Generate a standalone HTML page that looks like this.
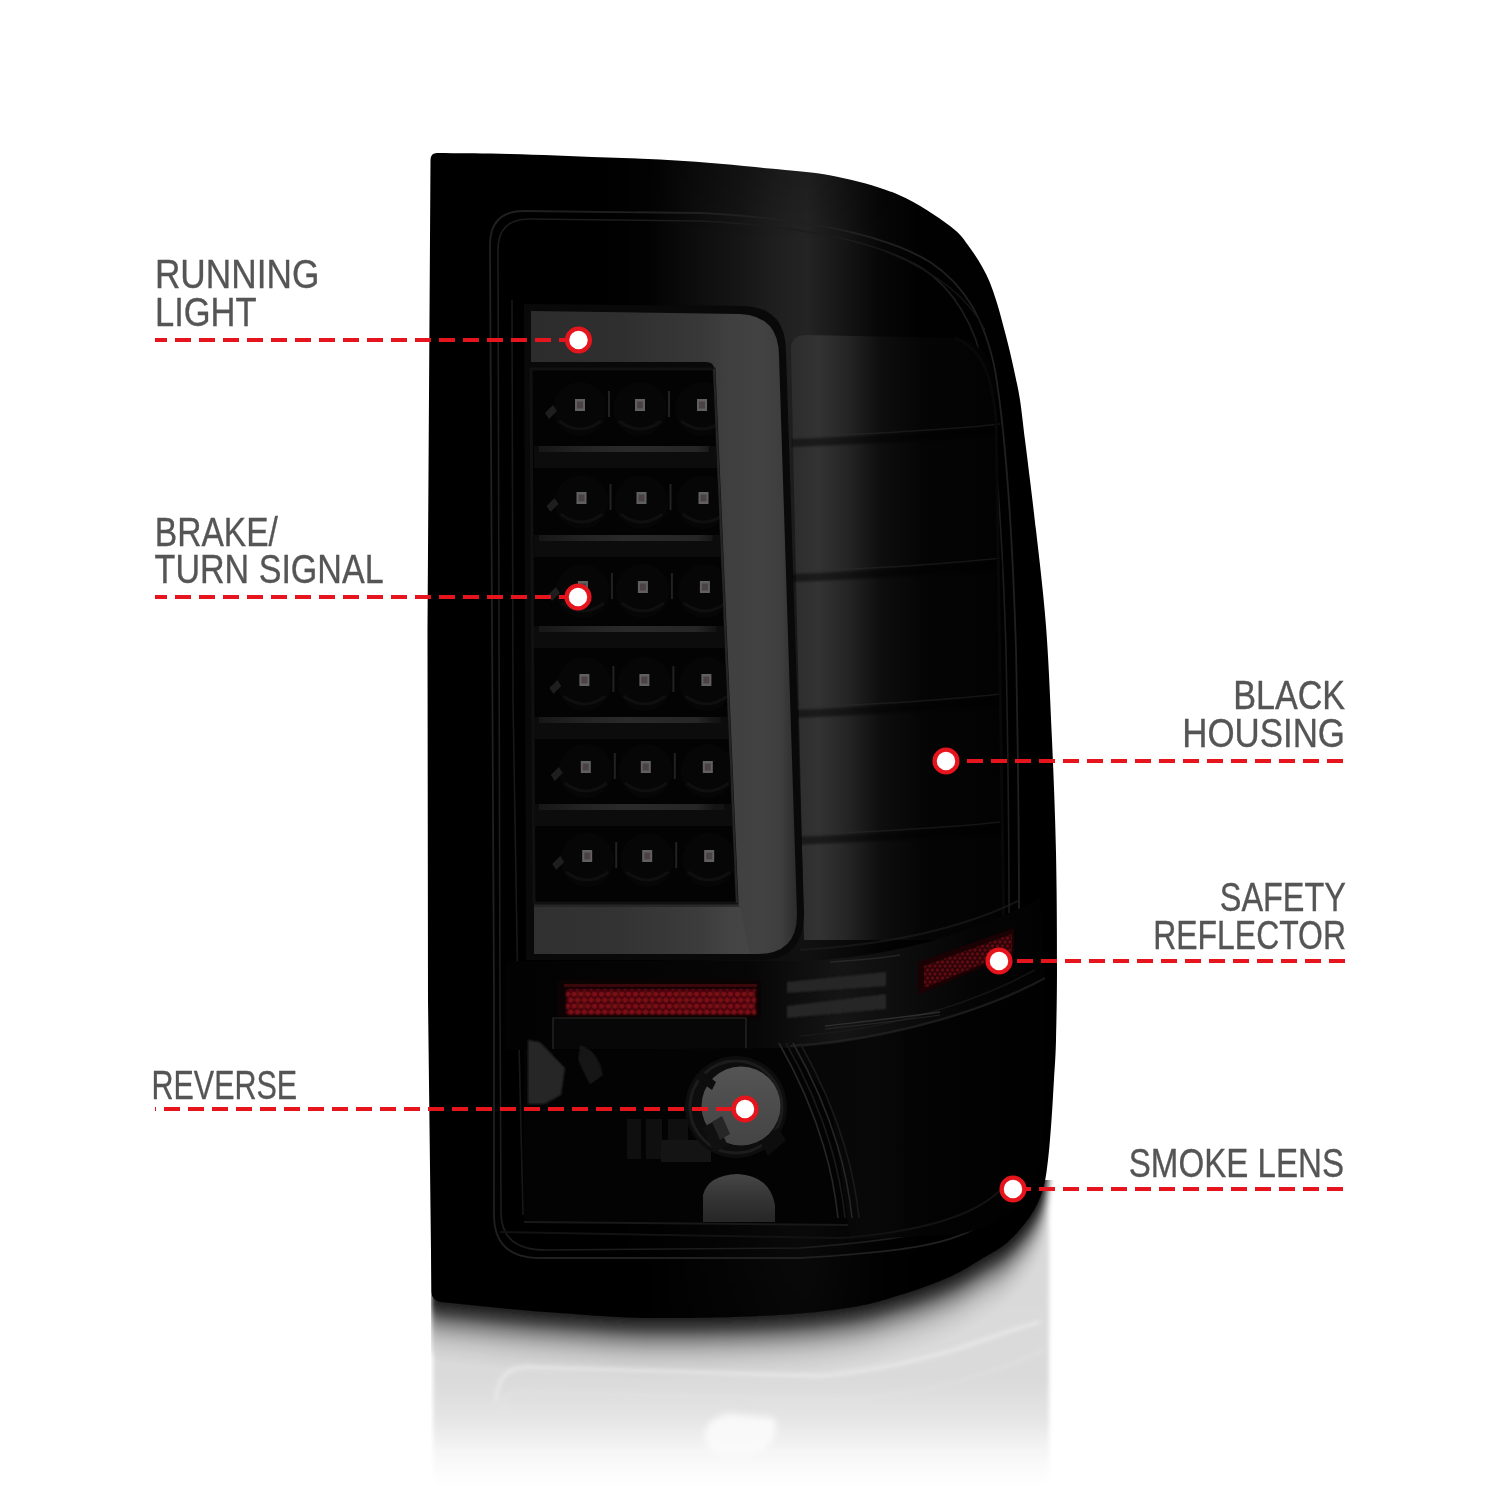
<!DOCTYPE html>
<html><head><meta charset="utf-8"><style>
html,body{margin:0;padding:0;background:#fff;}
svg{display:block;will-change:transform;}
text{font-family:"Liberation Sans",sans-serif;font-size:41.2px;fill:#555555;stroke:#555555;stroke-width:0.35px;}
</style></head><body>
<svg width="1500" height="1500" viewBox="0 0 1500 1500">
<defs>
<clipPath id="reflclip"><rect x="431" y="1180" width="626" height="320"/></clipPath>
<clipPath id="bodyclip"><path d="M430.5,160 Q430.5,153 437,153 C458.0,153.3 474.2,153.2 500.0,153.8 C525.8,154.5 561.3,155.7 592.0,156.9 C622.7,158.1 653.3,158.9 684.0,160.9 C714.7,162.9 750.5,166.4 776.0,169.1 C801.5,171.8 816.5,172.5 837.0,176.8 C857.5,181.1 880.2,186.8 899.0,195.0 C917.8,203.2 938.2,217.2 950.0,226.0 C961.8,234.8 964.0,240.0 970.0,248.0 C976.0,256.0 981.7,265.3 986.0,274.0 C990.3,282.7 992.7,289.7 996.0,300.0 C999.3,310.3 1003.0,324.3 1006.0,336.0 C1009.0,347.7 1011.7,359.3 1014.0,370.0 C1016.3,380.7 1018.2,388.3 1020.0,400.0 C1021.8,411.7 1023.3,426.7 1025.0,440.0 C1026.7,453.3 1028.2,465.0 1030.0,480.0 C1031.8,495.0 1033.3,505.7 1036.0,530.0 C1038.7,554.3 1043.3,591.0 1046.0,626.0 C1048.7,661.0 1050.3,702.2 1052.0,740.0 C1053.7,777.8 1055.2,815.3 1056.0,853.0 C1056.8,890.7 1057.0,934.8 1057.0,966.0 C1057.0,997.2 1056.5,1021.2 1056.0,1040.0 C1055.5,1058.8 1054.8,1065.7 1054.0,1079.0 C1053.2,1092.3 1052.5,1106.5 1051.5,1120.0 C1050.5,1133.5 1049.4,1148.5 1048.0,1160.0 C1046.6,1171.5 1045.8,1179.8 1043.0,1189.0 C1040.2,1198.2 1036.8,1206.2 1031.0,1215.0 C1025.2,1223.8 1016.0,1234.5 1008.0,1241.7 C1000.0,1248.9 992.7,1252.2 983.0,1258.0 C973.3,1263.8 963.8,1270.5 950.0,1276.7 C936.2,1282.9 916.7,1289.9 900.0,1295.0 C883.3,1300.1 871.7,1304.1 850.0,1307.5 C828.3,1310.9 803.3,1313.8 770.0,1315.5 C736.7,1317.2 685.0,1318.4 650.0,1318.0 C615.0,1317.6 585.0,1314.7 560.0,1313.0 C535.0,1311.3 519.8,1309.8 500.0,1308.0 C480.2,1306.2 460.7,1304.0 441.0,1302.0 Q431.5,1300 431.5,1292 L428,1000 L427.5,630 L430.5,160 Z"/></clipPath>
<linearGradient id="reflbase" x1="0" y1="1150" x2="0" y2="1500" gradientUnits="userSpaceOnUse">
<stop offset="0" stop-color="#d8d8d8"/>
<stop offset="0.657" stop-color="#dadada"/>
<stop offset="0.714" stop-color="#e0e0e0"/>
<stop offset="0.771" stop-color="#e5e5e5"/>
<stop offset="0.857" stop-color="#f5f5f5"/>
<stop offset="0.934" stop-color="#fdfdfd"/>
<stop offset="0.97" stop-color="#fff"/>
</linearGradient>
<filter id="rblur" x="-5%" y="-5%" width="110%" height="110%"><feGaussianBlur stdDeviation="2"/></filter><filter id="rblur2" x="-50%" y="-50%" width="200%" height="200%"><feGaussianBlur stdDeviation="3"/></filter>
<linearGradient id="bandTop" x1="600" y1="0" x2="1050" y2="0" gradientUnits="userSpaceOnUse">
<stop offset="0" stop-color="#fff" stop-opacity="0"/>
<stop offset="0.111" stop-color="#fff" stop-opacity="0.01"/>
<stop offset="0.222" stop-color="#fff" stop-opacity="0.055"/>
<stop offset="0.311" stop-color="#fff" stop-opacity="0.085"/>
<stop offset="0.40" stop-color="#fff" stop-opacity="0.125"/>
<stop offset="0.462" stop-color="#fff" stop-opacity="0.14"/>
<stop offset="0.533" stop-color="#fff" stop-opacity="0.09"/>
<stop offset="0.622" stop-color="#fff" stop-opacity="0.027"/>
<stop offset="0.711" stop-color="#fff" stop-opacity="0.005"/>
<stop offset="1" stop-color="#fff" stop-opacity="0"/>
</linearGradient>
<linearGradient id="bandV" x1="0" y1="150" x2="0" y2="1320" gradientUnits="userSpaceOnUse">
<stop offset="0" stop-color="#fff" stop-opacity="0.78"/>
<stop offset="0.08" stop-color="#fff" stop-opacity="1"/>
<stop offset="0.15" stop-color="#fff" stop-opacity="1"/>
<stop offset="0.65" stop-color="#fff" stop-opacity="0.5"/>
<stop offset="1" stop-color="#fff" stop-opacity="0.2"/>
</linearGradient>
<mask id="bandMask"><rect x="0" y="0" width="1500" height="1500" fill="url(#bandV)"/></mask>
<linearGradient id="barH" x1="531" y1="0" x2="800" y2="0" gradientUnits="userSpaceOnUse">
<stop offset="0" stop-color="#2c2c2c"/>
<stop offset="0.33" stop-color="#2f2f2f"/>
<stop offset="0.63" stop-color="#383838"/>
<stop offset="0.74" stop-color="#404040"/>
<stop offset="0.86" stop-color="#424242"/>
<stop offset="0.93" stop-color="#3e3e3e"/>
<stop offset="1" stop-color="#282828"/>
</linearGradient>
<linearGradient id="comp" x1="790" y1="0" x2="1010" y2="0" gradientUnits="userSpaceOnUse">
<stop offset="0" stop-color="#2c2c2c"/>
<stop offset="0.13" stop-color="#333333"/>
<stop offset="0.25" stop-color="#262626"/>
<stop offset="0.41" stop-color="#0e0e0e"/>
<stop offset="0.6" stop-color="#050505"/>
<stop offset="1" stop-color="#020202"/>
</linearGradient>
<linearGradient id="compTop" x1="760" y1="0" x2="1010" y2="0" gradientUnits="userSpaceOnUse">
<stop offset="0" stop-color="#1c1c1c"/>
<stop offset="0.3" stop-color="#202020"/>
<stop offset="0.6" stop-color="#0c0c0c"/>
<stop offset="1" stop-color="#030303"/>
</linearGradient>
<linearGradient id="lowerH" x1="505" y1="0" x2="1045" y2="0" gradientUnits="userSpaceOnUse">
<stop offset="0" stop-color="#020202"/>
<stop offset="0.45" stop-color="#060606"/>
<stop offset="0.62" stop-color="#151515"/>
<stop offset="0.76" stop-color="#0b0b0b"/>
<stop offset="0.86" stop-color="#050505"/>
<stop offset="1" stop-color="#020202"/>
</linearGradient>
<linearGradient id="lowerR" x1="780" y1="0" x2="1045" y2="0" gradientUnits="userSpaceOnUse">
<stop offset="0" stop-color="#060606"/>
<stop offset="0.35" stop-color="#080808"/>
<stop offset="0.55" stop-color="#030303"/>
<stop offset="1" stop-color="#010101"/>
</linearGradient>
<linearGradient id="divG" x1="535" y1="0" x2="715" y2="0" gradientUnits="userSpaceOnUse">
<stop offset="0" stop-color="#161616"/>
<stop offset="0.25" stop-color="#222222"/>
<stop offset="0.5" stop-color="#2a2a2a"/>
<stop offset="0.9" stop-color="#262626"/>
<stop offset="1" stop-color="#141414"/>
</linearGradient>
<pattern id="dots2" x="0" y="0" width="5" height="8" patternUnits="userSpaceOnUse">
<rect width="5" height="8" fill="#2a0306"/>
<circle cx="2.5" cy="2" r="1.7" fill="#5e0a11"/>
<circle cx="0" cy="6" r="1.7" fill="#5e0a11"/>
<circle cx="5" cy="6" r="1.7" fill="#5e0a11"/>
</pattern>
<linearGradient id="bulbG" x1="0" y1="1066" x2="0" y2="1147" gradientUnits="userSpaceOnUse">
<stop offset="0" stop-color="#545454"/>
<stop offset="1" stop-color="#444444"/>
</linearGradient>
<linearGradient id="blob" x1="0" y1="1174" x2="0" y2="1223" gradientUnits="userSpaceOnUse">
<stop offset="0" stop-color="#464646"/>
<stop offset="0.5" stop-color="#343434"/>
<stop offset="1" stop-color="#262626"/>
</linearGradient>
<pattern id="dots" x="564" y="992" width="6.8" height="12" patternUnits="userSpaceOnUse">
<rect width="6.8" height="12" fill="#2c0407"/>
<circle cx="3.4" cy="2" r="2.5" fill="#8c0e16"/>
<circle cx="0" cy="8" r="2.5" fill="#8c0e16"/>
<circle cx="6.8" cy="8" r="2.5" fill="#8c0e16"/>
</pattern>
<filter id="soft" x="-20%" y="-20%" width="140%" height="140%"><feGaussianBlur stdDeviation="1.2"/></filter>
<filter id="soft3" x="-20%" y="-20%" width="140%" height="140%"><feGaussianBlur stdDeviation="3"/></filter>
<clipPath id="ledclip"><path d="M531,369 L714,369 L737,903 L534,903 Z"/></clipPath>
</defs>
<!-- reflection -->
<g clip-path="url(#reflclip)"><g filter="url(#rblur)">
<rect x="433" y="1150" width="616" height="350" fill="url(#reflbase)"/>
<path d="M430.5,160 Q430.5,153 437,153 C458.0,153.3 474.2,153.2 500.0,153.8 C525.8,154.5 561.3,155.7 592.0,156.9 C622.7,158.1 653.3,158.9 684.0,160.9 C714.7,162.9 750.5,166.4 776.0,169.1 C801.5,171.8 816.5,172.5 837.0,176.8 C857.5,181.1 880.2,186.8 899.0,195.0 C917.8,203.2 938.2,217.2 950.0,226.0 C961.8,234.8 964.0,240.0 970.0,248.0 C976.0,256.0 981.7,265.3 986.0,274.0 C990.3,282.7 992.7,289.7 996.0,300.0 C999.3,310.3 1003.0,324.3 1006.0,336.0 C1009.0,347.7 1011.7,359.3 1014.0,370.0 C1016.3,380.7 1018.2,388.3 1020.0,400.0 C1021.8,411.7 1023.3,426.7 1025.0,440.0 C1026.7,453.3 1028.2,465.0 1030.0,480.0 C1031.8,495.0 1033.3,505.7 1036.0,530.0 C1038.7,554.3 1043.3,591.0 1046.0,626.0 C1048.7,661.0 1050.3,702.2 1052.0,740.0 C1053.7,777.8 1055.2,815.3 1056.0,853.0 C1056.8,890.7 1057.0,934.8 1057.0,966.0 C1057.0,997.2 1056.5,1021.2 1056.0,1040.0 C1055.5,1058.8 1054.8,1065.7 1054.0,1079.0 C1053.2,1092.3 1052.5,1106.5 1051.5,1120.0 C1050.5,1133.5 1049.4,1148.5 1048.0,1160.0 C1046.6,1171.5 1045.8,1179.8 1043.0,1189.0 C1040.2,1198.2 1036.8,1206.2 1031.0,1215.0 C1025.2,1223.8 1016.0,1234.5 1008.0,1241.7 C1000.0,1248.9 992.7,1252.2 983.0,1258.0 C973.3,1263.8 963.8,1270.5 950.0,1276.7 C936.2,1282.9 916.7,1289.9 900.0,1295.0 C883.3,1300.1 871.7,1304.1 850.0,1307.5 C828.3,1310.9 803.3,1313.8 770.0,1315.5 C736.7,1317.2 685.0,1318.4 650.0,1318.0 C615.0,1317.6 585.0,1314.7 560.0,1313.0 C535.0,1311.3 519.8,1309.8 500.0,1308.0 C480.2,1306.2 460.7,1304.0 441.0,1302.0 Q431.5,1300 431.5,1292 L428,1000 L427.5,630 L430.5,160 Z" transform="translate(0,58)" fill="rgb(214,214,214)"/>
<path d="M430.5,160 Q430.5,153 437,153 C458.0,153.3 474.2,153.2 500.0,153.8 C525.8,154.5 561.3,155.7 592.0,156.9 C622.7,158.1 653.3,158.9 684.0,160.9 C714.7,162.9 750.5,166.4 776.0,169.1 C801.5,171.8 816.5,172.5 837.0,176.8 C857.5,181.1 880.2,186.8 899.0,195.0 C917.8,203.2 938.2,217.2 950.0,226.0 C961.8,234.8 964.0,240.0 970.0,248.0 C976.0,256.0 981.7,265.3 986.0,274.0 C990.3,282.7 992.7,289.7 996.0,300.0 C999.3,310.3 1003.0,324.3 1006.0,336.0 C1009.0,347.7 1011.7,359.3 1014.0,370.0 C1016.3,380.7 1018.2,388.3 1020.0,400.0 C1021.8,411.7 1023.3,426.7 1025.0,440.0 C1026.7,453.3 1028.2,465.0 1030.0,480.0 C1031.8,495.0 1033.3,505.7 1036.0,530.0 C1038.7,554.3 1043.3,591.0 1046.0,626.0 C1048.7,661.0 1050.3,702.2 1052.0,740.0 C1053.7,777.8 1055.2,815.3 1056.0,853.0 C1056.8,890.7 1057.0,934.8 1057.0,966.0 C1057.0,997.2 1056.5,1021.2 1056.0,1040.0 C1055.5,1058.8 1054.8,1065.7 1054.0,1079.0 C1053.2,1092.3 1052.5,1106.5 1051.5,1120.0 C1050.5,1133.5 1049.4,1148.5 1048.0,1160.0 C1046.6,1171.5 1045.8,1179.8 1043.0,1189.0 C1040.2,1198.2 1036.8,1206.2 1031.0,1215.0 C1025.2,1223.8 1016.0,1234.5 1008.0,1241.7 C1000.0,1248.9 992.7,1252.2 983.0,1258.0 C973.3,1263.8 963.8,1270.5 950.0,1276.7 C936.2,1282.9 916.7,1289.9 900.0,1295.0 C883.3,1300.1 871.7,1304.1 850.0,1307.5 C828.3,1310.9 803.3,1313.8 770.0,1315.5 C736.7,1317.2 685.0,1318.4 650.0,1318.0 C615.0,1317.6 585.0,1314.7 560.0,1313.0 C535.0,1311.3 519.8,1309.8 500.0,1308.0 C480.2,1306.2 460.7,1304.0 441.0,1302.0 Q431.5,1300 431.5,1292 L428,1000 L427.5,630 L430.5,160 Z" transform="translate(0,56)" fill="rgb(213,213,213)"/>
<path d="M430.5,160 Q430.5,153 437,153 C458.0,153.3 474.2,153.2 500.0,153.8 C525.8,154.5 561.3,155.7 592.0,156.9 C622.7,158.1 653.3,158.9 684.0,160.9 C714.7,162.9 750.5,166.4 776.0,169.1 C801.5,171.8 816.5,172.5 837.0,176.8 C857.5,181.1 880.2,186.8 899.0,195.0 C917.8,203.2 938.2,217.2 950.0,226.0 C961.8,234.8 964.0,240.0 970.0,248.0 C976.0,256.0 981.7,265.3 986.0,274.0 C990.3,282.7 992.7,289.7 996.0,300.0 C999.3,310.3 1003.0,324.3 1006.0,336.0 C1009.0,347.7 1011.7,359.3 1014.0,370.0 C1016.3,380.7 1018.2,388.3 1020.0,400.0 C1021.8,411.7 1023.3,426.7 1025.0,440.0 C1026.7,453.3 1028.2,465.0 1030.0,480.0 C1031.8,495.0 1033.3,505.7 1036.0,530.0 C1038.7,554.3 1043.3,591.0 1046.0,626.0 C1048.7,661.0 1050.3,702.2 1052.0,740.0 C1053.7,777.8 1055.2,815.3 1056.0,853.0 C1056.8,890.7 1057.0,934.8 1057.0,966.0 C1057.0,997.2 1056.5,1021.2 1056.0,1040.0 C1055.5,1058.8 1054.8,1065.7 1054.0,1079.0 C1053.2,1092.3 1052.5,1106.5 1051.5,1120.0 C1050.5,1133.5 1049.4,1148.5 1048.0,1160.0 C1046.6,1171.5 1045.8,1179.8 1043.0,1189.0 C1040.2,1198.2 1036.8,1206.2 1031.0,1215.0 C1025.2,1223.8 1016.0,1234.5 1008.0,1241.7 C1000.0,1248.9 992.7,1252.2 983.0,1258.0 C973.3,1263.8 963.8,1270.5 950.0,1276.7 C936.2,1282.9 916.7,1289.9 900.0,1295.0 C883.3,1300.1 871.7,1304.1 850.0,1307.5 C828.3,1310.9 803.3,1313.8 770.0,1315.5 C736.7,1317.2 685.0,1318.4 650.0,1318.0 C615.0,1317.6 585.0,1314.7 560.0,1313.0 C535.0,1311.3 519.8,1309.8 500.0,1308.0 C480.2,1306.2 460.7,1304.0 441.0,1302.0 Q431.5,1300 431.5,1292 L428,1000 L427.5,630 L430.5,160 Z" transform="translate(0,54)" fill="rgb(211,211,211)"/>
<path d="M430.5,160 Q430.5,153 437,153 C458.0,153.3 474.2,153.2 500.0,153.8 C525.8,154.5 561.3,155.7 592.0,156.9 C622.7,158.1 653.3,158.9 684.0,160.9 C714.7,162.9 750.5,166.4 776.0,169.1 C801.5,171.8 816.5,172.5 837.0,176.8 C857.5,181.1 880.2,186.8 899.0,195.0 C917.8,203.2 938.2,217.2 950.0,226.0 C961.8,234.8 964.0,240.0 970.0,248.0 C976.0,256.0 981.7,265.3 986.0,274.0 C990.3,282.7 992.7,289.7 996.0,300.0 C999.3,310.3 1003.0,324.3 1006.0,336.0 C1009.0,347.7 1011.7,359.3 1014.0,370.0 C1016.3,380.7 1018.2,388.3 1020.0,400.0 C1021.8,411.7 1023.3,426.7 1025.0,440.0 C1026.7,453.3 1028.2,465.0 1030.0,480.0 C1031.8,495.0 1033.3,505.7 1036.0,530.0 C1038.7,554.3 1043.3,591.0 1046.0,626.0 C1048.7,661.0 1050.3,702.2 1052.0,740.0 C1053.7,777.8 1055.2,815.3 1056.0,853.0 C1056.8,890.7 1057.0,934.8 1057.0,966.0 C1057.0,997.2 1056.5,1021.2 1056.0,1040.0 C1055.5,1058.8 1054.8,1065.7 1054.0,1079.0 C1053.2,1092.3 1052.5,1106.5 1051.5,1120.0 C1050.5,1133.5 1049.4,1148.5 1048.0,1160.0 C1046.6,1171.5 1045.8,1179.8 1043.0,1189.0 C1040.2,1198.2 1036.8,1206.2 1031.0,1215.0 C1025.2,1223.8 1016.0,1234.5 1008.0,1241.7 C1000.0,1248.9 992.7,1252.2 983.0,1258.0 C973.3,1263.8 963.8,1270.5 950.0,1276.7 C936.2,1282.9 916.7,1289.9 900.0,1295.0 C883.3,1300.1 871.7,1304.1 850.0,1307.5 C828.3,1310.9 803.3,1313.8 770.0,1315.5 C736.7,1317.2 685.0,1318.4 650.0,1318.0 C615.0,1317.6 585.0,1314.7 560.0,1313.0 C535.0,1311.3 519.8,1309.8 500.0,1308.0 C480.2,1306.2 460.7,1304.0 441.0,1302.0 Q431.5,1300 431.5,1292 L428,1000 L427.5,630 L430.5,160 Z" transform="translate(0,52)" fill="rgb(210,210,210)"/>
<path d="M430.5,160 Q430.5,153 437,153 C458.0,153.3 474.2,153.2 500.0,153.8 C525.8,154.5 561.3,155.7 592.0,156.9 C622.7,158.1 653.3,158.9 684.0,160.9 C714.7,162.9 750.5,166.4 776.0,169.1 C801.5,171.8 816.5,172.5 837.0,176.8 C857.5,181.1 880.2,186.8 899.0,195.0 C917.8,203.2 938.2,217.2 950.0,226.0 C961.8,234.8 964.0,240.0 970.0,248.0 C976.0,256.0 981.7,265.3 986.0,274.0 C990.3,282.7 992.7,289.7 996.0,300.0 C999.3,310.3 1003.0,324.3 1006.0,336.0 C1009.0,347.7 1011.7,359.3 1014.0,370.0 C1016.3,380.7 1018.2,388.3 1020.0,400.0 C1021.8,411.7 1023.3,426.7 1025.0,440.0 C1026.7,453.3 1028.2,465.0 1030.0,480.0 C1031.8,495.0 1033.3,505.7 1036.0,530.0 C1038.7,554.3 1043.3,591.0 1046.0,626.0 C1048.7,661.0 1050.3,702.2 1052.0,740.0 C1053.7,777.8 1055.2,815.3 1056.0,853.0 C1056.8,890.7 1057.0,934.8 1057.0,966.0 C1057.0,997.2 1056.5,1021.2 1056.0,1040.0 C1055.5,1058.8 1054.8,1065.7 1054.0,1079.0 C1053.2,1092.3 1052.5,1106.5 1051.5,1120.0 C1050.5,1133.5 1049.4,1148.5 1048.0,1160.0 C1046.6,1171.5 1045.8,1179.8 1043.0,1189.0 C1040.2,1198.2 1036.8,1206.2 1031.0,1215.0 C1025.2,1223.8 1016.0,1234.5 1008.0,1241.7 C1000.0,1248.9 992.7,1252.2 983.0,1258.0 C973.3,1263.8 963.8,1270.5 950.0,1276.7 C936.2,1282.9 916.7,1289.9 900.0,1295.0 C883.3,1300.1 871.7,1304.1 850.0,1307.5 C828.3,1310.9 803.3,1313.8 770.0,1315.5 C736.7,1317.2 685.0,1318.4 650.0,1318.0 C615.0,1317.6 585.0,1314.7 560.0,1313.0 C535.0,1311.3 519.8,1309.8 500.0,1308.0 C480.2,1306.2 460.7,1304.0 441.0,1302.0 Q431.5,1300 431.5,1292 L428,1000 L427.5,630 L430.5,160 Z" transform="translate(0,50)" fill="rgb(208,208,208)"/>
<path d="M430.5,160 Q430.5,153 437,153 C458.0,153.3 474.2,153.2 500.0,153.8 C525.8,154.5 561.3,155.7 592.0,156.9 C622.7,158.1 653.3,158.9 684.0,160.9 C714.7,162.9 750.5,166.4 776.0,169.1 C801.5,171.8 816.5,172.5 837.0,176.8 C857.5,181.1 880.2,186.8 899.0,195.0 C917.8,203.2 938.2,217.2 950.0,226.0 C961.8,234.8 964.0,240.0 970.0,248.0 C976.0,256.0 981.7,265.3 986.0,274.0 C990.3,282.7 992.7,289.7 996.0,300.0 C999.3,310.3 1003.0,324.3 1006.0,336.0 C1009.0,347.7 1011.7,359.3 1014.0,370.0 C1016.3,380.7 1018.2,388.3 1020.0,400.0 C1021.8,411.7 1023.3,426.7 1025.0,440.0 C1026.7,453.3 1028.2,465.0 1030.0,480.0 C1031.8,495.0 1033.3,505.7 1036.0,530.0 C1038.7,554.3 1043.3,591.0 1046.0,626.0 C1048.7,661.0 1050.3,702.2 1052.0,740.0 C1053.7,777.8 1055.2,815.3 1056.0,853.0 C1056.8,890.7 1057.0,934.8 1057.0,966.0 C1057.0,997.2 1056.5,1021.2 1056.0,1040.0 C1055.5,1058.8 1054.8,1065.7 1054.0,1079.0 C1053.2,1092.3 1052.5,1106.5 1051.5,1120.0 C1050.5,1133.5 1049.4,1148.5 1048.0,1160.0 C1046.6,1171.5 1045.8,1179.8 1043.0,1189.0 C1040.2,1198.2 1036.8,1206.2 1031.0,1215.0 C1025.2,1223.8 1016.0,1234.5 1008.0,1241.7 C1000.0,1248.9 992.7,1252.2 983.0,1258.0 C973.3,1263.8 963.8,1270.5 950.0,1276.7 C936.2,1282.9 916.7,1289.9 900.0,1295.0 C883.3,1300.1 871.7,1304.1 850.0,1307.5 C828.3,1310.9 803.3,1313.8 770.0,1315.5 C736.7,1317.2 685.0,1318.4 650.0,1318.0 C615.0,1317.6 585.0,1314.7 560.0,1313.0 C535.0,1311.3 519.8,1309.8 500.0,1308.0 C480.2,1306.2 460.7,1304.0 441.0,1302.0 Q431.5,1300 431.5,1292 L428,1000 L427.5,630 L430.5,160 Z" transform="translate(0,48)" fill="rgb(205,205,205)"/>
<path d="M430.5,160 Q430.5,153 437,153 C458.0,153.3 474.2,153.2 500.0,153.8 C525.8,154.5 561.3,155.7 592.0,156.9 C622.7,158.1 653.3,158.9 684.0,160.9 C714.7,162.9 750.5,166.4 776.0,169.1 C801.5,171.8 816.5,172.5 837.0,176.8 C857.5,181.1 880.2,186.8 899.0,195.0 C917.8,203.2 938.2,217.2 950.0,226.0 C961.8,234.8 964.0,240.0 970.0,248.0 C976.0,256.0 981.7,265.3 986.0,274.0 C990.3,282.7 992.7,289.7 996.0,300.0 C999.3,310.3 1003.0,324.3 1006.0,336.0 C1009.0,347.7 1011.7,359.3 1014.0,370.0 C1016.3,380.7 1018.2,388.3 1020.0,400.0 C1021.8,411.7 1023.3,426.7 1025.0,440.0 C1026.7,453.3 1028.2,465.0 1030.0,480.0 C1031.8,495.0 1033.3,505.7 1036.0,530.0 C1038.7,554.3 1043.3,591.0 1046.0,626.0 C1048.7,661.0 1050.3,702.2 1052.0,740.0 C1053.7,777.8 1055.2,815.3 1056.0,853.0 C1056.8,890.7 1057.0,934.8 1057.0,966.0 C1057.0,997.2 1056.5,1021.2 1056.0,1040.0 C1055.5,1058.8 1054.8,1065.7 1054.0,1079.0 C1053.2,1092.3 1052.5,1106.5 1051.5,1120.0 C1050.5,1133.5 1049.4,1148.5 1048.0,1160.0 C1046.6,1171.5 1045.8,1179.8 1043.0,1189.0 C1040.2,1198.2 1036.8,1206.2 1031.0,1215.0 C1025.2,1223.8 1016.0,1234.5 1008.0,1241.7 C1000.0,1248.9 992.7,1252.2 983.0,1258.0 C973.3,1263.8 963.8,1270.5 950.0,1276.7 C936.2,1282.9 916.7,1289.9 900.0,1295.0 C883.3,1300.1 871.7,1304.1 850.0,1307.5 C828.3,1310.9 803.3,1313.8 770.0,1315.5 C736.7,1317.2 685.0,1318.4 650.0,1318.0 C615.0,1317.6 585.0,1314.7 560.0,1313.0 C535.0,1311.3 519.8,1309.8 500.0,1308.0 C480.2,1306.2 460.7,1304.0 441.0,1302.0 Q431.5,1300 431.5,1292 L428,1000 L427.5,630 L430.5,160 Z" transform="translate(0,46)" fill="rgb(202,202,202)"/>
<path d="M430.5,160 Q430.5,153 437,153 C458.0,153.3 474.2,153.2 500.0,153.8 C525.8,154.5 561.3,155.7 592.0,156.9 C622.7,158.1 653.3,158.9 684.0,160.9 C714.7,162.9 750.5,166.4 776.0,169.1 C801.5,171.8 816.5,172.5 837.0,176.8 C857.5,181.1 880.2,186.8 899.0,195.0 C917.8,203.2 938.2,217.2 950.0,226.0 C961.8,234.8 964.0,240.0 970.0,248.0 C976.0,256.0 981.7,265.3 986.0,274.0 C990.3,282.7 992.7,289.7 996.0,300.0 C999.3,310.3 1003.0,324.3 1006.0,336.0 C1009.0,347.7 1011.7,359.3 1014.0,370.0 C1016.3,380.7 1018.2,388.3 1020.0,400.0 C1021.8,411.7 1023.3,426.7 1025.0,440.0 C1026.7,453.3 1028.2,465.0 1030.0,480.0 C1031.8,495.0 1033.3,505.7 1036.0,530.0 C1038.7,554.3 1043.3,591.0 1046.0,626.0 C1048.7,661.0 1050.3,702.2 1052.0,740.0 C1053.7,777.8 1055.2,815.3 1056.0,853.0 C1056.8,890.7 1057.0,934.8 1057.0,966.0 C1057.0,997.2 1056.5,1021.2 1056.0,1040.0 C1055.5,1058.8 1054.8,1065.7 1054.0,1079.0 C1053.2,1092.3 1052.5,1106.5 1051.5,1120.0 C1050.5,1133.5 1049.4,1148.5 1048.0,1160.0 C1046.6,1171.5 1045.8,1179.8 1043.0,1189.0 C1040.2,1198.2 1036.8,1206.2 1031.0,1215.0 C1025.2,1223.8 1016.0,1234.5 1008.0,1241.7 C1000.0,1248.9 992.7,1252.2 983.0,1258.0 C973.3,1263.8 963.8,1270.5 950.0,1276.7 C936.2,1282.9 916.7,1289.9 900.0,1295.0 C883.3,1300.1 871.7,1304.1 850.0,1307.5 C828.3,1310.9 803.3,1313.8 770.0,1315.5 C736.7,1317.2 685.0,1318.4 650.0,1318.0 C615.0,1317.6 585.0,1314.7 560.0,1313.0 C535.0,1311.3 519.8,1309.8 500.0,1308.0 C480.2,1306.2 460.7,1304.0 441.0,1302.0 Q431.5,1300 431.5,1292 L428,1000 L427.5,630 L430.5,160 Z" transform="translate(0,44)" fill="rgb(200,200,200)"/>
<path d="M430.5,160 Q430.5,153 437,153 C458.0,153.3 474.2,153.2 500.0,153.8 C525.8,154.5 561.3,155.7 592.0,156.9 C622.7,158.1 653.3,158.9 684.0,160.9 C714.7,162.9 750.5,166.4 776.0,169.1 C801.5,171.8 816.5,172.5 837.0,176.8 C857.5,181.1 880.2,186.8 899.0,195.0 C917.8,203.2 938.2,217.2 950.0,226.0 C961.8,234.8 964.0,240.0 970.0,248.0 C976.0,256.0 981.7,265.3 986.0,274.0 C990.3,282.7 992.7,289.7 996.0,300.0 C999.3,310.3 1003.0,324.3 1006.0,336.0 C1009.0,347.7 1011.7,359.3 1014.0,370.0 C1016.3,380.7 1018.2,388.3 1020.0,400.0 C1021.8,411.7 1023.3,426.7 1025.0,440.0 C1026.7,453.3 1028.2,465.0 1030.0,480.0 C1031.8,495.0 1033.3,505.7 1036.0,530.0 C1038.7,554.3 1043.3,591.0 1046.0,626.0 C1048.7,661.0 1050.3,702.2 1052.0,740.0 C1053.7,777.8 1055.2,815.3 1056.0,853.0 C1056.8,890.7 1057.0,934.8 1057.0,966.0 C1057.0,997.2 1056.5,1021.2 1056.0,1040.0 C1055.5,1058.8 1054.8,1065.7 1054.0,1079.0 C1053.2,1092.3 1052.5,1106.5 1051.5,1120.0 C1050.5,1133.5 1049.4,1148.5 1048.0,1160.0 C1046.6,1171.5 1045.8,1179.8 1043.0,1189.0 C1040.2,1198.2 1036.8,1206.2 1031.0,1215.0 C1025.2,1223.8 1016.0,1234.5 1008.0,1241.7 C1000.0,1248.9 992.7,1252.2 983.0,1258.0 C973.3,1263.8 963.8,1270.5 950.0,1276.7 C936.2,1282.9 916.7,1289.9 900.0,1295.0 C883.3,1300.1 871.7,1304.1 850.0,1307.5 C828.3,1310.9 803.3,1313.8 770.0,1315.5 C736.7,1317.2 685.0,1318.4 650.0,1318.0 C615.0,1317.6 585.0,1314.7 560.0,1313.0 C535.0,1311.3 519.8,1309.8 500.0,1308.0 C480.2,1306.2 460.7,1304.0 441.0,1302.0 Q431.5,1300 431.5,1292 L428,1000 L427.5,630 L430.5,160 Z" transform="translate(0,42)" fill="rgb(197,197,197)"/>
<path d="M430.5,160 Q430.5,153 437,153 C458.0,153.3 474.2,153.2 500.0,153.8 C525.8,154.5 561.3,155.7 592.0,156.9 C622.7,158.1 653.3,158.9 684.0,160.9 C714.7,162.9 750.5,166.4 776.0,169.1 C801.5,171.8 816.5,172.5 837.0,176.8 C857.5,181.1 880.2,186.8 899.0,195.0 C917.8,203.2 938.2,217.2 950.0,226.0 C961.8,234.8 964.0,240.0 970.0,248.0 C976.0,256.0 981.7,265.3 986.0,274.0 C990.3,282.7 992.7,289.7 996.0,300.0 C999.3,310.3 1003.0,324.3 1006.0,336.0 C1009.0,347.7 1011.7,359.3 1014.0,370.0 C1016.3,380.7 1018.2,388.3 1020.0,400.0 C1021.8,411.7 1023.3,426.7 1025.0,440.0 C1026.7,453.3 1028.2,465.0 1030.0,480.0 C1031.8,495.0 1033.3,505.7 1036.0,530.0 C1038.7,554.3 1043.3,591.0 1046.0,626.0 C1048.7,661.0 1050.3,702.2 1052.0,740.0 C1053.7,777.8 1055.2,815.3 1056.0,853.0 C1056.8,890.7 1057.0,934.8 1057.0,966.0 C1057.0,997.2 1056.5,1021.2 1056.0,1040.0 C1055.5,1058.8 1054.8,1065.7 1054.0,1079.0 C1053.2,1092.3 1052.5,1106.5 1051.5,1120.0 C1050.5,1133.5 1049.4,1148.5 1048.0,1160.0 C1046.6,1171.5 1045.8,1179.8 1043.0,1189.0 C1040.2,1198.2 1036.8,1206.2 1031.0,1215.0 C1025.2,1223.8 1016.0,1234.5 1008.0,1241.7 C1000.0,1248.9 992.7,1252.2 983.0,1258.0 C973.3,1263.8 963.8,1270.5 950.0,1276.7 C936.2,1282.9 916.7,1289.9 900.0,1295.0 C883.3,1300.1 871.7,1304.1 850.0,1307.5 C828.3,1310.9 803.3,1313.8 770.0,1315.5 C736.7,1317.2 685.0,1318.4 650.0,1318.0 C615.0,1317.6 585.0,1314.7 560.0,1313.0 C535.0,1311.3 519.8,1309.8 500.0,1308.0 C480.2,1306.2 460.7,1304.0 441.0,1302.0 Q431.5,1300 431.5,1292 L428,1000 L427.5,630 L430.5,160 Z" transform="translate(0,40)" fill="rgb(192,192,192)"/>
<path d="M430.5,160 Q430.5,153 437,153 C458.0,153.3 474.2,153.2 500.0,153.8 C525.8,154.5 561.3,155.7 592.0,156.9 C622.7,158.1 653.3,158.9 684.0,160.9 C714.7,162.9 750.5,166.4 776.0,169.1 C801.5,171.8 816.5,172.5 837.0,176.8 C857.5,181.1 880.2,186.8 899.0,195.0 C917.8,203.2 938.2,217.2 950.0,226.0 C961.8,234.8 964.0,240.0 970.0,248.0 C976.0,256.0 981.7,265.3 986.0,274.0 C990.3,282.7 992.7,289.7 996.0,300.0 C999.3,310.3 1003.0,324.3 1006.0,336.0 C1009.0,347.7 1011.7,359.3 1014.0,370.0 C1016.3,380.7 1018.2,388.3 1020.0,400.0 C1021.8,411.7 1023.3,426.7 1025.0,440.0 C1026.7,453.3 1028.2,465.0 1030.0,480.0 C1031.8,495.0 1033.3,505.7 1036.0,530.0 C1038.7,554.3 1043.3,591.0 1046.0,626.0 C1048.7,661.0 1050.3,702.2 1052.0,740.0 C1053.7,777.8 1055.2,815.3 1056.0,853.0 C1056.8,890.7 1057.0,934.8 1057.0,966.0 C1057.0,997.2 1056.5,1021.2 1056.0,1040.0 C1055.5,1058.8 1054.8,1065.7 1054.0,1079.0 C1053.2,1092.3 1052.5,1106.5 1051.5,1120.0 C1050.5,1133.5 1049.4,1148.5 1048.0,1160.0 C1046.6,1171.5 1045.8,1179.8 1043.0,1189.0 C1040.2,1198.2 1036.8,1206.2 1031.0,1215.0 C1025.2,1223.8 1016.0,1234.5 1008.0,1241.7 C1000.0,1248.9 992.7,1252.2 983.0,1258.0 C973.3,1263.8 963.8,1270.5 950.0,1276.7 C936.2,1282.9 916.7,1289.9 900.0,1295.0 C883.3,1300.1 871.7,1304.1 850.0,1307.5 C828.3,1310.9 803.3,1313.8 770.0,1315.5 C736.7,1317.2 685.0,1318.4 650.0,1318.0 C615.0,1317.6 585.0,1314.7 560.0,1313.0 C535.0,1311.3 519.8,1309.8 500.0,1308.0 C480.2,1306.2 460.7,1304.0 441.0,1302.0 Q431.5,1300 431.5,1292 L428,1000 L427.5,630 L430.5,160 Z" transform="translate(0,38)" fill="rgb(187,187,187)"/>
<path d="M430.5,160 Q430.5,153 437,153 C458.0,153.3 474.2,153.2 500.0,153.8 C525.8,154.5 561.3,155.7 592.0,156.9 C622.7,158.1 653.3,158.9 684.0,160.9 C714.7,162.9 750.5,166.4 776.0,169.1 C801.5,171.8 816.5,172.5 837.0,176.8 C857.5,181.1 880.2,186.8 899.0,195.0 C917.8,203.2 938.2,217.2 950.0,226.0 C961.8,234.8 964.0,240.0 970.0,248.0 C976.0,256.0 981.7,265.3 986.0,274.0 C990.3,282.7 992.7,289.7 996.0,300.0 C999.3,310.3 1003.0,324.3 1006.0,336.0 C1009.0,347.7 1011.7,359.3 1014.0,370.0 C1016.3,380.7 1018.2,388.3 1020.0,400.0 C1021.8,411.7 1023.3,426.7 1025.0,440.0 C1026.7,453.3 1028.2,465.0 1030.0,480.0 C1031.8,495.0 1033.3,505.7 1036.0,530.0 C1038.7,554.3 1043.3,591.0 1046.0,626.0 C1048.7,661.0 1050.3,702.2 1052.0,740.0 C1053.7,777.8 1055.2,815.3 1056.0,853.0 C1056.8,890.7 1057.0,934.8 1057.0,966.0 C1057.0,997.2 1056.5,1021.2 1056.0,1040.0 C1055.5,1058.8 1054.8,1065.7 1054.0,1079.0 C1053.2,1092.3 1052.5,1106.5 1051.5,1120.0 C1050.5,1133.5 1049.4,1148.5 1048.0,1160.0 C1046.6,1171.5 1045.8,1179.8 1043.0,1189.0 C1040.2,1198.2 1036.8,1206.2 1031.0,1215.0 C1025.2,1223.8 1016.0,1234.5 1008.0,1241.7 C1000.0,1248.9 992.7,1252.2 983.0,1258.0 C973.3,1263.8 963.8,1270.5 950.0,1276.7 C936.2,1282.9 916.7,1289.9 900.0,1295.0 C883.3,1300.1 871.7,1304.1 850.0,1307.5 C828.3,1310.9 803.3,1313.8 770.0,1315.5 C736.7,1317.2 685.0,1318.4 650.0,1318.0 C615.0,1317.6 585.0,1314.7 560.0,1313.0 C535.0,1311.3 519.8,1309.8 500.0,1308.0 C480.2,1306.2 460.7,1304.0 441.0,1302.0 Q431.5,1300 431.5,1292 L428,1000 L427.5,630 L430.5,160 Z" transform="translate(0,36)" fill="rgb(182,182,182)"/>
<path d="M430.5,160 Q430.5,153 437,153 C458.0,153.3 474.2,153.2 500.0,153.8 C525.8,154.5 561.3,155.7 592.0,156.9 C622.7,158.1 653.3,158.9 684.0,160.9 C714.7,162.9 750.5,166.4 776.0,169.1 C801.5,171.8 816.5,172.5 837.0,176.8 C857.5,181.1 880.2,186.8 899.0,195.0 C917.8,203.2 938.2,217.2 950.0,226.0 C961.8,234.8 964.0,240.0 970.0,248.0 C976.0,256.0 981.7,265.3 986.0,274.0 C990.3,282.7 992.7,289.7 996.0,300.0 C999.3,310.3 1003.0,324.3 1006.0,336.0 C1009.0,347.7 1011.7,359.3 1014.0,370.0 C1016.3,380.7 1018.2,388.3 1020.0,400.0 C1021.8,411.7 1023.3,426.7 1025.0,440.0 C1026.7,453.3 1028.2,465.0 1030.0,480.0 C1031.8,495.0 1033.3,505.7 1036.0,530.0 C1038.7,554.3 1043.3,591.0 1046.0,626.0 C1048.7,661.0 1050.3,702.2 1052.0,740.0 C1053.7,777.8 1055.2,815.3 1056.0,853.0 C1056.8,890.7 1057.0,934.8 1057.0,966.0 C1057.0,997.2 1056.5,1021.2 1056.0,1040.0 C1055.5,1058.8 1054.8,1065.7 1054.0,1079.0 C1053.2,1092.3 1052.5,1106.5 1051.5,1120.0 C1050.5,1133.5 1049.4,1148.5 1048.0,1160.0 C1046.6,1171.5 1045.8,1179.8 1043.0,1189.0 C1040.2,1198.2 1036.8,1206.2 1031.0,1215.0 C1025.2,1223.8 1016.0,1234.5 1008.0,1241.7 C1000.0,1248.9 992.7,1252.2 983.0,1258.0 C973.3,1263.8 963.8,1270.5 950.0,1276.7 C936.2,1282.9 916.7,1289.9 900.0,1295.0 C883.3,1300.1 871.7,1304.1 850.0,1307.5 C828.3,1310.9 803.3,1313.8 770.0,1315.5 C736.7,1317.2 685.0,1318.4 650.0,1318.0 C615.0,1317.6 585.0,1314.7 560.0,1313.0 C535.0,1311.3 519.8,1309.8 500.0,1308.0 C480.2,1306.2 460.7,1304.0 441.0,1302.0 Q431.5,1300 431.5,1292 L428,1000 L427.5,630 L430.5,160 Z" transform="translate(0,34)" fill="rgb(176,176,176)"/>
<path d="M430.5,160 Q430.5,153 437,153 C458.0,153.3 474.2,153.2 500.0,153.8 C525.8,154.5 561.3,155.7 592.0,156.9 C622.7,158.1 653.3,158.9 684.0,160.9 C714.7,162.9 750.5,166.4 776.0,169.1 C801.5,171.8 816.5,172.5 837.0,176.8 C857.5,181.1 880.2,186.8 899.0,195.0 C917.8,203.2 938.2,217.2 950.0,226.0 C961.8,234.8 964.0,240.0 970.0,248.0 C976.0,256.0 981.7,265.3 986.0,274.0 C990.3,282.7 992.7,289.7 996.0,300.0 C999.3,310.3 1003.0,324.3 1006.0,336.0 C1009.0,347.7 1011.7,359.3 1014.0,370.0 C1016.3,380.7 1018.2,388.3 1020.0,400.0 C1021.8,411.7 1023.3,426.7 1025.0,440.0 C1026.7,453.3 1028.2,465.0 1030.0,480.0 C1031.8,495.0 1033.3,505.7 1036.0,530.0 C1038.7,554.3 1043.3,591.0 1046.0,626.0 C1048.7,661.0 1050.3,702.2 1052.0,740.0 C1053.7,777.8 1055.2,815.3 1056.0,853.0 C1056.8,890.7 1057.0,934.8 1057.0,966.0 C1057.0,997.2 1056.5,1021.2 1056.0,1040.0 C1055.5,1058.8 1054.8,1065.7 1054.0,1079.0 C1053.2,1092.3 1052.5,1106.5 1051.5,1120.0 C1050.5,1133.5 1049.4,1148.5 1048.0,1160.0 C1046.6,1171.5 1045.8,1179.8 1043.0,1189.0 C1040.2,1198.2 1036.8,1206.2 1031.0,1215.0 C1025.2,1223.8 1016.0,1234.5 1008.0,1241.7 C1000.0,1248.9 992.7,1252.2 983.0,1258.0 C973.3,1263.8 963.8,1270.5 950.0,1276.7 C936.2,1282.9 916.7,1289.9 900.0,1295.0 C883.3,1300.1 871.7,1304.1 850.0,1307.5 C828.3,1310.9 803.3,1313.8 770.0,1315.5 C736.7,1317.2 685.0,1318.4 650.0,1318.0 C615.0,1317.6 585.0,1314.7 560.0,1313.0 C535.0,1311.3 519.8,1309.8 500.0,1308.0 C480.2,1306.2 460.7,1304.0 441.0,1302.0 Q431.5,1300 431.5,1292 L428,1000 L427.5,630 L430.5,160 Z" transform="translate(0,32)" fill="rgb(170,170,170)"/>
<path d="M430.5,160 Q430.5,153 437,153 C458.0,153.3 474.2,153.2 500.0,153.8 C525.8,154.5 561.3,155.7 592.0,156.9 C622.7,158.1 653.3,158.9 684.0,160.9 C714.7,162.9 750.5,166.4 776.0,169.1 C801.5,171.8 816.5,172.5 837.0,176.8 C857.5,181.1 880.2,186.8 899.0,195.0 C917.8,203.2 938.2,217.2 950.0,226.0 C961.8,234.8 964.0,240.0 970.0,248.0 C976.0,256.0 981.7,265.3 986.0,274.0 C990.3,282.7 992.7,289.7 996.0,300.0 C999.3,310.3 1003.0,324.3 1006.0,336.0 C1009.0,347.7 1011.7,359.3 1014.0,370.0 C1016.3,380.7 1018.2,388.3 1020.0,400.0 C1021.8,411.7 1023.3,426.7 1025.0,440.0 C1026.7,453.3 1028.2,465.0 1030.0,480.0 C1031.8,495.0 1033.3,505.7 1036.0,530.0 C1038.7,554.3 1043.3,591.0 1046.0,626.0 C1048.7,661.0 1050.3,702.2 1052.0,740.0 C1053.7,777.8 1055.2,815.3 1056.0,853.0 C1056.8,890.7 1057.0,934.8 1057.0,966.0 C1057.0,997.2 1056.5,1021.2 1056.0,1040.0 C1055.5,1058.8 1054.8,1065.7 1054.0,1079.0 C1053.2,1092.3 1052.5,1106.5 1051.5,1120.0 C1050.5,1133.5 1049.4,1148.5 1048.0,1160.0 C1046.6,1171.5 1045.8,1179.8 1043.0,1189.0 C1040.2,1198.2 1036.8,1206.2 1031.0,1215.0 C1025.2,1223.8 1016.0,1234.5 1008.0,1241.7 C1000.0,1248.9 992.7,1252.2 983.0,1258.0 C973.3,1263.8 963.8,1270.5 950.0,1276.7 C936.2,1282.9 916.7,1289.9 900.0,1295.0 C883.3,1300.1 871.7,1304.1 850.0,1307.5 C828.3,1310.9 803.3,1313.8 770.0,1315.5 C736.7,1317.2 685.0,1318.4 650.0,1318.0 C615.0,1317.6 585.0,1314.7 560.0,1313.0 C535.0,1311.3 519.8,1309.8 500.0,1308.0 C480.2,1306.2 460.7,1304.0 441.0,1302.0 Q431.5,1300 431.5,1292 L428,1000 L427.5,630 L430.5,160 Z" transform="translate(0,30)" fill="rgb(162,162,162)"/>
<path d="M430.5,160 Q430.5,153 437,153 C458.0,153.3 474.2,153.2 500.0,153.8 C525.8,154.5 561.3,155.7 592.0,156.9 C622.7,158.1 653.3,158.9 684.0,160.9 C714.7,162.9 750.5,166.4 776.0,169.1 C801.5,171.8 816.5,172.5 837.0,176.8 C857.5,181.1 880.2,186.8 899.0,195.0 C917.8,203.2 938.2,217.2 950.0,226.0 C961.8,234.8 964.0,240.0 970.0,248.0 C976.0,256.0 981.7,265.3 986.0,274.0 C990.3,282.7 992.7,289.7 996.0,300.0 C999.3,310.3 1003.0,324.3 1006.0,336.0 C1009.0,347.7 1011.7,359.3 1014.0,370.0 C1016.3,380.7 1018.2,388.3 1020.0,400.0 C1021.8,411.7 1023.3,426.7 1025.0,440.0 C1026.7,453.3 1028.2,465.0 1030.0,480.0 C1031.8,495.0 1033.3,505.7 1036.0,530.0 C1038.7,554.3 1043.3,591.0 1046.0,626.0 C1048.7,661.0 1050.3,702.2 1052.0,740.0 C1053.7,777.8 1055.2,815.3 1056.0,853.0 C1056.8,890.7 1057.0,934.8 1057.0,966.0 C1057.0,997.2 1056.5,1021.2 1056.0,1040.0 C1055.5,1058.8 1054.8,1065.7 1054.0,1079.0 C1053.2,1092.3 1052.5,1106.5 1051.5,1120.0 C1050.5,1133.5 1049.4,1148.5 1048.0,1160.0 C1046.6,1171.5 1045.8,1179.8 1043.0,1189.0 C1040.2,1198.2 1036.8,1206.2 1031.0,1215.0 C1025.2,1223.8 1016.0,1234.5 1008.0,1241.7 C1000.0,1248.9 992.7,1252.2 983.0,1258.0 C973.3,1263.8 963.8,1270.5 950.0,1276.7 C936.2,1282.9 916.7,1289.9 900.0,1295.0 C883.3,1300.1 871.7,1304.1 850.0,1307.5 C828.3,1310.9 803.3,1313.8 770.0,1315.5 C736.7,1317.2 685.0,1318.4 650.0,1318.0 C615.0,1317.6 585.0,1314.7 560.0,1313.0 C535.0,1311.3 519.8,1309.8 500.0,1308.0 C480.2,1306.2 460.7,1304.0 441.0,1302.0 Q431.5,1300 431.5,1292 L428,1000 L427.5,630 L430.5,160 Z" transform="translate(0,28)" fill="rgb(154,154,154)"/>
<path d="M430.5,160 Q430.5,153 437,153 C458.0,153.3 474.2,153.2 500.0,153.8 C525.8,154.5 561.3,155.7 592.0,156.9 C622.7,158.1 653.3,158.9 684.0,160.9 C714.7,162.9 750.5,166.4 776.0,169.1 C801.5,171.8 816.5,172.5 837.0,176.8 C857.5,181.1 880.2,186.8 899.0,195.0 C917.8,203.2 938.2,217.2 950.0,226.0 C961.8,234.8 964.0,240.0 970.0,248.0 C976.0,256.0 981.7,265.3 986.0,274.0 C990.3,282.7 992.7,289.7 996.0,300.0 C999.3,310.3 1003.0,324.3 1006.0,336.0 C1009.0,347.7 1011.7,359.3 1014.0,370.0 C1016.3,380.7 1018.2,388.3 1020.0,400.0 C1021.8,411.7 1023.3,426.7 1025.0,440.0 C1026.7,453.3 1028.2,465.0 1030.0,480.0 C1031.8,495.0 1033.3,505.7 1036.0,530.0 C1038.7,554.3 1043.3,591.0 1046.0,626.0 C1048.7,661.0 1050.3,702.2 1052.0,740.0 C1053.7,777.8 1055.2,815.3 1056.0,853.0 C1056.8,890.7 1057.0,934.8 1057.0,966.0 C1057.0,997.2 1056.5,1021.2 1056.0,1040.0 C1055.5,1058.8 1054.8,1065.7 1054.0,1079.0 C1053.2,1092.3 1052.5,1106.5 1051.5,1120.0 C1050.5,1133.5 1049.4,1148.5 1048.0,1160.0 C1046.6,1171.5 1045.8,1179.8 1043.0,1189.0 C1040.2,1198.2 1036.8,1206.2 1031.0,1215.0 C1025.2,1223.8 1016.0,1234.5 1008.0,1241.7 C1000.0,1248.9 992.7,1252.2 983.0,1258.0 C973.3,1263.8 963.8,1270.5 950.0,1276.7 C936.2,1282.9 916.7,1289.9 900.0,1295.0 C883.3,1300.1 871.7,1304.1 850.0,1307.5 C828.3,1310.9 803.3,1313.8 770.0,1315.5 C736.7,1317.2 685.0,1318.4 650.0,1318.0 C615.0,1317.6 585.0,1314.7 560.0,1313.0 C535.0,1311.3 519.8,1309.8 500.0,1308.0 C480.2,1306.2 460.7,1304.0 441.0,1302.0 Q431.5,1300 431.5,1292 L428,1000 L427.5,630 L430.5,160 Z" transform="translate(0,26)" fill="rgb(146,146,146)"/>
<path d="M430.5,160 Q430.5,153 437,153 C458.0,153.3 474.2,153.2 500.0,153.8 C525.8,154.5 561.3,155.7 592.0,156.9 C622.7,158.1 653.3,158.9 684.0,160.9 C714.7,162.9 750.5,166.4 776.0,169.1 C801.5,171.8 816.5,172.5 837.0,176.8 C857.5,181.1 880.2,186.8 899.0,195.0 C917.8,203.2 938.2,217.2 950.0,226.0 C961.8,234.8 964.0,240.0 970.0,248.0 C976.0,256.0 981.7,265.3 986.0,274.0 C990.3,282.7 992.7,289.7 996.0,300.0 C999.3,310.3 1003.0,324.3 1006.0,336.0 C1009.0,347.7 1011.7,359.3 1014.0,370.0 C1016.3,380.7 1018.2,388.3 1020.0,400.0 C1021.8,411.7 1023.3,426.7 1025.0,440.0 C1026.7,453.3 1028.2,465.0 1030.0,480.0 C1031.8,495.0 1033.3,505.7 1036.0,530.0 C1038.7,554.3 1043.3,591.0 1046.0,626.0 C1048.7,661.0 1050.3,702.2 1052.0,740.0 C1053.7,777.8 1055.2,815.3 1056.0,853.0 C1056.8,890.7 1057.0,934.8 1057.0,966.0 C1057.0,997.2 1056.5,1021.2 1056.0,1040.0 C1055.5,1058.8 1054.8,1065.7 1054.0,1079.0 C1053.2,1092.3 1052.5,1106.5 1051.5,1120.0 C1050.5,1133.5 1049.4,1148.5 1048.0,1160.0 C1046.6,1171.5 1045.8,1179.8 1043.0,1189.0 C1040.2,1198.2 1036.8,1206.2 1031.0,1215.0 C1025.2,1223.8 1016.0,1234.5 1008.0,1241.7 C1000.0,1248.9 992.7,1252.2 983.0,1258.0 C973.3,1263.8 963.8,1270.5 950.0,1276.7 C936.2,1282.9 916.7,1289.9 900.0,1295.0 C883.3,1300.1 871.7,1304.1 850.0,1307.5 C828.3,1310.9 803.3,1313.8 770.0,1315.5 C736.7,1317.2 685.0,1318.4 650.0,1318.0 C615.0,1317.6 585.0,1314.7 560.0,1313.0 C535.0,1311.3 519.8,1309.8 500.0,1308.0 C480.2,1306.2 460.7,1304.0 441.0,1302.0 Q431.5,1300 431.5,1292 L428,1000 L427.5,630 L430.5,160 Z" transform="translate(0,24)" fill="rgb(137,137,137)"/>
<path d="M430.5,160 Q430.5,153 437,153 C458.0,153.3 474.2,153.2 500.0,153.8 C525.8,154.5 561.3,155.7 592.0,156.9 C622.7,158.1 653.3,158.9 684.0,160.9 C714.7,162.9 750.5,166.4 776.0,169.1 C801.5,171.8 816.5,172.5 837.0,176.8 C857.5,181.1 880.2,186.8 899.0,195.0 C917.8,203.2 938.2,217.2 950.0,226.0 C961.8,234.8 964.0,240.0 970.0,248.0 C976.0,256.0 981.7,265.3 986.0,274.0 C990.3,282.7 992.7,289.7 996.0,300.0 C999.3,310.3 1003.0,324.3 1006.0,336.0 C1009.0,347.7 1011.7,359.3 1014.0,370.0 C1016.3,380.7 1018.2,388.3 1020.0,400.0 C1021.8,411.7 1023.3,426.7 1025.0,440.0 C1026.7,453.3 1028.2,465.0 1030.0,480.0 C1031.8,495.0 1033.3,505.7 1036.0,530.0 C1038.7,554.3 1043.3,591.0 1046.0,626.0 C1048.7,661.0 1050.3,702.2 1052.0,740.0 C1053.7,777.8 1055.2,815.3 1056.0,853.0 C1056.8,890.7 1057.0,934.8 1057.0,966.0 C1057.0,997.2 1056.5,1021.2 1056.0,1040.0 C1055.5,1058.8 1054.8,1065.7 1054.0,1079.0 C1053.2,1092.3 1052.5,1106.5 1051.5,1120.0 C1050.5,1133.5 1049.4,1148.5 1048.0,1160.0 C1046.6,1171.5 1045.8,1179.8 1043.0,1189.0 C1040.2,1198.2 1036.8,1206.2 1031.0,1215.0 C1025.2,1223.8 1016.0,1234.5 1008.0,1241.7 C1000.0,1248.9 992.7,1252.2 983.0,1258.0 C973.3,1263.8 963.8,1270.5 950.0,1276.7 C936.2,1282.9 916.7,1289.9 900.0,1295.0 C883.3,1300.1 871.7,1304.1 850.0,1307.5 C828.3,1310.9 803.3,1313.8 770.0,1315.5 C736.7,1317.2 685.0,1318.4 650.0,1318.0 C615.0,1317.6 585.0,1314.7 560.0,1313.0 C535.0,1311.3 519.8,1309.8 500.0,1308.0 C480.2,1306.2 460.7,1304.0 441.0,1302.0 Q431.5,1300 431.5,1292 L428,1000 L427.5,630 L430.5,160 Z" transform="translate(0,22)" fill="rgb(128,128,128)"/>
<path d="M430.5,160 Q430.5,153 437,153 C458.0,153.3 474.2,153.2 500.0,153.8 C525.8,154.5 561.3,155.7 592.0,156.9 C622.7,158.1 653.3,158.9 684.0,160.9 C714.7,162.9 750.5,166.4 776.0,169.1 C801.5,171.8 816.5,172.5 837.0,176.8 C857.5,181.1 880.2,186.8 899.0,195.0 C917.8,203.2 938.2,217.2 950.0,226.0 C961.8,234.8 964.0,240.0 970.0,248.0 C976.0,256.0 981.7,265.3 986.0,274.0 C990.3,282.7 992.7,289.7 996.0,300.0 C999.3,310.3 1003.0,324.3 1006.0,336.0 C1009.0,347.7 1011.7,359.3 1014.0,370.0 C1016.3,380.7 1018.2,388.3 1020.0,400.0 C1021.8,411.7 1023.3,426.7 1025.0,440.0 C1026.7,453.3 1028.2,465.0 1030.0,480.0 C1031.8,495.0 1033.3,505.7 1036.0,530.0 C1038.7,554.3 1043.3,591.0 1046.0,626.0 C1048.7,661.0 1050.3,702.2 1052.0,740.0 C1053.7,777.8 1055.2,815.3 1056.0,853.0 C1056.8,890.7 1057.0,934.8 1057.0,966.0 C1057.0,997.2 1056.5,1021.2 1056.0,1040.0 C1055.5,1058.8 1054.8,1065.7 1054.0,1079.0 C1053.2,1092.3 1052.5,1106.5 1051.5,1120.0 C1050.5,1133.5 1049.4,1148.5 1048.0,1160.0 C1046.6,1171.5 1045.8,1179.8 1043.0,1189.0 C1040.2,1198.2 1036.8,1206.2 1031.0,1215.0 C1025.2,1223.8 1016.0,1234.5 1008.0,1241.7 C1000.0,1248.9 992.7,1252.2 983.0,1258.0 C973.3,1263.8 963.8,1270.5 950.0,1276.7 C936.2,1282.9 916.7,1289.9 900.0,1295.0 C883.3,1300.1 871.7,1304.1 850.0,1307.5 C828.3,1310.9 803.3,1313.8 770.0,1315.5 C736.7,1317.2 685.0,1318.4 650.0,1318.0 C615.0,1317.6 585.0,1314.7 560.0,1313.0 C535.0,1311.3 519.8,1309.8 500.0,1308.0 C480.2,1306.2 460.7,1304.0 441.0,1302.0 Q431.5,1300 431.5,1292 L428,1000 L427.5,630 L430.5,160 Z" transform="translate(0,20)" fill="rgb(116,116,116)"/>
<path d="M430.5,160 Q430.5,153 437,153 C458.0,153.3 474.2,153.2 500.0,153.8 C525.8,154.5 561.3,155.7 592.0,156.9 C622.7,158.1 653.3,158.9 684.0,160.9 C714.7,162.9 750.5,166.4 776.0,169.1 C801.5,171.8 816.5,172.5 837.0,176.8 C857.5,181.1 880.2,186.8 899.0,195.0 C917.8,203.2 938.2,217.2 950.0,226.0 C961.8,234.8 964.0,240.0 970.0,248.0 C976.0,256.0 981.7,265.3 986.0,274.0 C990.3,282.7 992.7,289.7 996.0,300.0 C999.3,310.3 1003.0,324.3 1006.0,336.0 C1009.0,347.7 1011.7,359.3 1014.0,370.0 C1016.3,380.7 1018.2,388.3 1020.0,400.0 C1021.8,411.7 1023.3,426.7 1025.0,440.0 C1026.7,453.3 1028.2,465.0 1030.0,480.0 C1031.8,495.0 1033.3,505.7 1036.0,530.0 C1038.7,554.3 1043.3,591.0 1046.0,626.0 C1048.7,661.0 1050.3,702.2 1052.0,740.0 C1053.7,777.8 1055.2,815.3 1056.0,853.0 C1056.8,890.7 1057.0,934.8 1057.0,966.0 C1057.0,997.2 1056.5,1021.2 1056.0,1040.0 C1055.5,1058.8 1054.8,1065.7 1054.0,1079.0 C1053.2,1092.3 1052.5,1106.5 1051.5,1120.0 C1050.5,1133.5 1049.4,1148.5 1048.0,1160.0 C1046.6,1171.5 1045.8,1179.8 1043.0,1189.0 C1040.2,1198.2 1036.8,1206.2 1031.0,1215.0 C1025.2,1223.8 1016.0,1234.5 1008.0,1241.7 C1000.0,1248.9 992.7,1252.2 983.0,1258.0 C973.3,1263.8 963.8,1270.5 950.0,1276.7 C936.2,1282.9 916.7,1289.9 900.0,1295.0 C883.3,1300.1 871.7,1304.1 850.0,1307.5 C828.3,1310.9 803.3,1313.8 770.0,1315.5 C736.7,1317.2 685.0,1318.4 650.0,1318.0 C615.0,1317.6 585.0,1314.7 560.0,1313.0 C535.0,1311.3 519.8,1309.8 500.0,1308.0 C480.2,1306.2 460.7,1304.0 441.0,1302.0 Q431.5,1300 431.5,1292 L428,1000 L427.5,630 L430.5,160 Z" transform="translate(0,18)" fill="rgb(104,104,104)"/>
<path d="M430.5,160 Q430.5,153 437,153 C458.0,153.3 474.2,153.2 500.0,153.8 C525.8,154.5 561.3,155.7 592.0,156.9 C622.7,158.1 653.3,158.9 684.0,160.9 C714.7,162.9 750.5,166.4 776.0,169.1 C801.5,171.8 816.5,172.5 837.0,176.8 C857.5,181.1 880.2,186.8 899.0,195.0 C917.8,203.2 938.2,217.2 950.0,226.0 C961.8,234.8 964.0,240.0 970.0,248.0 C976.0,256.0 981.7,265.3 986.0,274.0 C990.3,282.7 992.7,289.7 996.0,300.0 C999.3,310.3 1003.0,324.3 1006.0,336.0 C1009.0,347.7 1011.7,359.3 1014.0,370.0 C1016.3,380.7 1018.2,388.3 1020.0,400.0 C1021.8,411.7 1023.3,426.7 1025.0,440.0 C1026.7,453.3 1028.2,465.0 1030.0,480.0 C1031.8,495.0 1033.3,505.7 1036.0,530.0 C1038.7,554.3 1043.3,591.0 1046.0,626.0 C1048.7,661.0 1050.3,702.2 1052.0,740.0 C1053.7,777.8 1055.2,815.3 1056.0,853.0 C1056.8,890.7 1057.0,934.8 1057.0,966.0 C1057.0,997.2 1056.5,1021.2 1056.0,1040.0 C1055.5,1058.8 1054.8,1065.7 1054.0,1079.0 C1053.2,1092.3 1052.5,1106.5 1051.5,1120.0 C1050.5,1133.5 1049.4,1148.5 1048.0,1160.0 C1046.6,1171.5 1045.8,1179.8 1043.0,1189.0 C1040.2,1198.2 1036.8,1206.2 1031.0,1215.0 C1025.2,1223.8 1016.0,1234.5 1008.0,1241.7 C1000.0,1248.9 992.7,1252.2 983.0,1258.0 C973.3,1263.8 963.8,1270.5 950.0,1276.7 C936.2,1282.9 916.7,1289.9 900.0,1295.0 C883.3,1300.1 871.7,1304.1 850.0,1307.5 C828.3,1310.9 803.3,1313.8 770.0,1315.5 C736.7,1317.2 685.0,1318.4 650.0,1318.0 C615.0,1317.6 585.0,1314.7 560.0,1313.0 C535.0,1311.3 519.8,1309.8 500.0,1308.0 C480.2,1306.2 460.7,1304.0 441.0,1302.0 Q431.5,1300 431.5,1292 L428,1000 L427.5,630 L430.5,160 Z" transform="translate(0,16)" fill="rgb(92,92,92)"/>
<path d="M430.5,160 Q430.5,153 437,153 C458.0,153.3 474.2,153.2 500.0,153.8 C525.8,154.5 561.3,155.7 592.0,156.9 C622.7,158.1 653.3,158.9 684.0,160.9 C714.7,162.9 750.5,166.4 776.0,169.1 C801.5,171.8 816.5,172.5 837.0,176.8 C857.5,181.1 880.2,186.8 899.0,195.0 C917.8,203.2 938.2,217.2 950.0,226.0 C961.8,234.8 964.0,240.0 970.0,248.0 C976.0,256.0 981.7,265.3 986.0,274.0 C990.3,282.7 992.7,289.7 996.0,300.0 C999.3,310.3 1003.0,324.3 1006.0,336.0 C1009.0,347.7 1011.7,359.3 1014.0,370.0 C1016.3,380.7 1018.2,388.3 1020.0,400.0 C1021.8,411.7 1023.3,426.7 1025.0,440.0 C1026.7,453.3 1028.2,465.0 1030.0,480.0 C1031.8,495.0 1033.3,505.7 1036.0,530.0 C1038.7,554.3 1043.3,591.0 1046.0,626.0 C1048.7,661.0 1050.3,702.2 1052.0,740.0 C1053.7,777.8 1055.2,815.3 1056.0,853.0 C1056.8,890.7 1057.0,934.8 1057.0,966.0 C1057.0,997.2 1056.5,1021.2 1056.0,1040.0 C1055.5,1058.8 1054.8,1065.7 1054.0,1079.0 C1053.2,1092.3 1052.5,1106.5 1051.5,1120.0 C1050.5,1133.5 1049.4,1148.5 1048.0,1160.0 C1046.6,1171.5 1045.8,1179.8 1043.0,1189.0 C1040.2,1198.2 1036.8,1206.2 1031.0,1215.0 C1025.2,1223.8 1016.0,1234.5 1008.0,1241.7 C1000.0,1248.9 992.7,1252.2 983.0,1258.0 C973.3,1263.8 963.8,1270.5 950.0,1276.7 C936.2,1282.9 916.7,1289.9 900.0,1295.0 C883.3,1300.1 871.7,1304.1 850.0,1307.5 C828.3,1310.9 803.3,1313.8 770.0,1315.5 C736.7,1317.2 685.0,1318.4 650.0,1318.0 C615.0,1317.6 585.0,1314.7 560.0,1313.0 C535.0,1311.3 519.8,1309.8 500.0,1308.0 C480.2,1306.2 460.7,1304.0 441.0,1302.0 Q431.5,1300 431.5,1292 L428,1000 L427.5,630 L430.5,160 Z" transform="translate(0,14)" fill="rgb(80,80,80)"/>
<path d="M430.5,160 Q430.5,153 437,153 C458.0,153.3 474.2,153.2 500.0,153.8 C525.8,154.5 561.3,155.7 592.0,156.9 C622.7,158.1 653.3,158.9 684.0,160.9 C714.7,162.9 750.5,166.4 776.0,169.1 C801.5,171.8 816.5,172.5 837.0,176.8 C857.5,181.1 880.2,186.8 899.0,195.0 C917.8,203.2 938.2,217.2 950.0,226.0 C961.8,234.8 964.0,240.0 970.0,248.0 C976.0,256.0 981.7,265.3 986.0,274.0 C990.3,282.7 992.7,289.7 996.0,300.0 C999.3,310.3 1003.0,324.3 1006.0,336.0 C1009.0,347.7 1011.7,359.3 1014.0,370.0 C1016.3,380.7 1018.2,388.3 1020.0,400.0 C1021.8,411.7 1023.3,426.7 1025.0,440.0 C1026.7,453.3 1028.2,465.0 1030.0,480.0 C1031.8,495.0 1033.3,505.7 1036.0,530.0 C1038.7,554.3 1043.3,591.0 1046.0,626.0 C1048.7,661.0 1050.3,702.2 1052.0,740.0 C1053.7,777.8 1055.2,815.3 1056.0,853.0 C1056.8,890.7 1057.0,934.8 1057.0,966.0 C1057.0,997.2 1056.5,1021.2 1056.0,1040.0 C1055.5,1058.8 1054.8,1065.7 1054.0,1079.0 C1053.2,1092.3 1052.5,1106.5 1051.5,1120.0 C1050.5,1133.5 1049.4,1148.5 1048.0,1160.0 C1046.6,1171.5 1045.8,1179.8 1043.0,1189.0 C1040.2,1198.2 1036.8,1206.2 1031.0,1215.0 C1025.2,1223.8 1016.0,1234.5 1008.0,1241.7 C1000.0,1248.9 992.7,1252.2 983.0,1258.0 C973.3,1263.8 963.8,1270.5 950.0,1276.7 C936.2,1282.9 916.7,1289.9 900.0,1295.0 C883.3,1300.1 871.7,1304.1 850.0,1307.5 C828.3,1310.9 803.3,1313.8 770.0,1315.5 C736.7,1317.2 685.0,1318.4 650.0,1318.0 C615.0,1317.6 585.0,1314.7 560.0,1313.0 C535.0,1311.3 519.8,1309.8 500.0,1308.0 C480.2,1306.2 460.7,1304.0 441.0,1302.0 Q431.5,1300 431.5,1292 L428,1000 L427.5,630 L430.5,160 Z" transform="translate(0,12)" fill="rgb(68,68,68)"/>
<path d="M430.5,160 Q430.5,153 437,153 C458.0,153.3 474.2,153.2 500.0,153.8 C525.8,154.5 561.3,155.7 592.0,156.9 C622.7,158.1 653.3,158.9 684.0,160.9 C714.7,162.9 750.5,166.4 776.0,169.1 C801.5,171.8 816.5,172.5 837.0,176.8 C857.5,181.1 880.2,186.8 899.0,195.0 C917.8,203.2 938.2,217.2 950.0,226.0 C961.8,234.8 964.0,240.0 970.0,248.0 C976.0,256.0 981.7,265.3 986.0,274.0 C990.3,282.7 992.7,289.7 996.0,300.0 C999.3,310.3 1003.0,324.3 1006.0,336.0 C1009.0,347.7 1011.7,359.3 1014.0,370.0 C1016.3,380.7 1018.2,388.3 1020.0,400.0 C1021.8,411.7 1023.3,426.7 1025.0,440.0 C1026.7,453.3 1028.2,465.0 1030.0,480.0 C1031.8,495.0 1033.3,505.7 1036.0,530.0 C1038.7,554.3 1043.3,591.0 1046.0,626.0 C1048.7,661.0 1050.3,702.2 1052.0,740.0 C1053.7,777.8 1055.2,815.3 1056.0,853.0 C1056.8,890.7 1057.0,934.8 1057.0,966.0 C1057.0,997.2 1056.5,1021.2 1056.0,1040.0 C1055.5,1058.8 1054.8,1065.7 1054.0,1079.0 C1053.2,1092.3 1052.5,1106.5 1051.5,1120.0 C1050.5,1133.5 1049.4,1148.5 1048.0,1160.0 C1046.6,1171.5 1045.8,1179.8 1043.0,1189.0 C1040.2,1198.2 1036.8,1206.2 1031.0,1215.0 C1025.2,1223.8 1016.0,1234.5 1008.0,1241.7 C1000.0,1248.9 992.7,1252.2 983.0,1258.0 C973.3,1263.8 963.8,1270.5 950.0,1276.7 C936.2,1282.9 916.7,1289.9 900.0,1295.0 C883.3,1300.1 871.7,1304.1 850.0,1307.5 C828.3,1310.9 803.3,1313.8 770.0,1315.5 C736.7,1317.2 685.0,1318.4 650.0,1318.0 C615.0,1317.6 585.0,1314.7 560.0,1313.0 C535.0,1311.3 519.8,1309.8 500.0,1308.0 C480.2,1306.2 460.7,1304.0 441.0,1302.0 Q431.5,1300 431.5,1292 L428,1000 L427.5,630 L430.5,160 Z" transform="translate(0,10)" fill="rgb(60,60,60)"/>
<path d="M430.5,160 Q430.5,153 437,153 C458.0,153.3 474.2,153.2 500.0,153.8 C525.8,154.5 561.3,155.7 592.0,156.9 C622.7,158.1 653.3,158.9 684.0,160.9 C714.7,162.9 750.5,166.4 776.0,169.1 C801.5,171.8 816.5,172.5 837.0,176.8 C857.5,181.1 880.2,186.8 899.0,195.0 C917.8,203.2 938.2,217.2 950.0,226.0 C961.8,234.8 964.0,240.0 970.0,248.0 C976.0,256.0 981.7,265.3 986.0,274.0 C990.3,282.7 992.7,289.7 996.0,300.0 C999.3,310.3 1003.0,324.3 1006.0,336.0 C1009.0,347.7 1011.7,359.3 1014.0,370.0 C1016.3,380.7 1018.2,388.3 1020.0,400.0 C1021.8,411.7 1023.3,426.7 1025.0,440.0 C1026.7,453.3 1028.2,465.0 1030.0,480.0 C1031.8,495.0 1033.3,505.7 1036.0,530.0 C1038.7,554.3 1043.3,591.0 1046.0,626.0 C1048.7,661.0 1050.3,702.2 1052.0,740.0 C1053.7,777.8 1055.2,815.3 1056.0,853.0 C1056.8,890.7 1057.0,934.8 1057.0,966.0 C1057.0,997.2 1056.5,1021.2 1056.0,1040.0 C1055.5,1058.8 1054.8,1065.7 1054.0,1079.0 C1053.2,1092.3 1052.5,1106.5 1051.5,1120.0 C1050.5,1133.5 1049.4,1148.5 1048.0,1160.0 C1046.6,1171.5 1045.8,1179.8 1043.0,1189.0 C1040.2,1198.2 1036.8,1206.2 1031.0,1215.0 C1025.2,1223.8 1016.0,1234.5 1008.0,1241.7 C1000.0,1248.9 992.7,1252.2 983.0,1258.0 C973.3,1263.8 963.8,1270.5 950.0,1276.7 C936.2,1282.9 916.7,1289.9 900.0,1295.0 C883.3,1300.1 871.7,1304.1 850.0,1307.5 C828.3,1310.9 803.3,1313.8 770.0,1315.5 C736.7,1317.2 685.0,1318.4 650.0,1318.0 C615.0,1317.6 585.0,1314.7 560.0,1313.0 C535.0,1311.3 519.8,1309.8 500.0,1308.0 C480.2,1306.2 460.7,1304.0 441.0,1302.0 Q431.5,1300 431.5,1292 L428,1000 L427.5,630 L430.5,160 Z" transform="translate(0,8)" fill="rgb(52,52,52)"/>
<path d="M430.5,160 Q430.5,153 437,153 C458.0,153.3 474.2,153.2 500.0,153.8 C525.8,154.5 561.3,155.7 592.0,156.9 C622.7,158.1 653.3,158.9 684.0,160.9 C714.7,162.9 750.5,166.4 776.0,169.1 C801.5,171.8 816.5,172.5 837.0,176.8 C857.5,181.1 880.2,186.8 899.0,195.0 C917.8,203.2 938.2,217.2 950.0,226.0 C961.8,234.8 964.0,240.0 970.0,248.0 C976.0,256.0 981.7,265.3 986.0,274.0 C990.3,282.7 992.7,289.7 996.0,300.0 C999.3,310.3 1003.0,324.3 1006.0,336.0 C1009.0,347.7 1011.7,359.3 1014.0,370.0 C1016.3,380.7 1018.2,388.3 1020.0,400.0 C1021.8,411.7 1023.3,426.7 1025.0,440.0 C1026.7,453.3 1028.2,465.0 1030.0,480.0 C1031.8,495.0 1033.3,505.7 1036.0,530.0 C1038.7,554.3 1043.3,591.0 1046.0,626.0 C1048.7,661.0 1050.3,702.2 1052.0,740.0 C1053.7,777.8 1055.2,815.3 1056.0,853.0 C1056.8,890.7 1057.0,934.8 1057.0,966.0 C1057.0,997.2 1056.5,1021.2 1056.0,1040.0 C1055.5,1058.8 1054.8,1065.7 1054.0,1079.0 C1053.2,1092.3 1052.5,1106.5 1051.5,1120.0 C1050.5,1133.5 1049.4,1148.5 1048.0,1160.0 C1046.6,1171.5 1045.8,1179.8 1043.0,1189.0 C1040.2,1198.2 1036.8,1206.2 1031.0,1215.0 C1025.2,1223.8 1016.0,1234.5 1008.0,1241.7 C1000.0,1248.9 992.7,1252.2 983.0,1258.0 C973.3,1263.8 963.8,1270.5 950.0,1276.7 C936.2,1282.9 916.7,1289.9 900.0,1295.0 C883.3,1300.1 871.7,1304.1 850.0,1307.5 C828.3,1310.9 803.3,1313.8 770.0,1315.5 C736.7,1317.2 685.0,1318.4 650.0,1318.0 C615.0,1317.6 585.0,1314.7 560.0,1313.0 C535.0,1311.3 519.8,1309.8 500.0,1308.0 C480.2,1306.2 460.7,1304.0 441.0,1302.0 Q431.5,1300 431.5,1292 L428,1000 L427.5,630 L430.5,160 Z" transform="translate(0,6)" fill="rgb(45,45,45)"/>
<path d="M430.5,160 Q430.5,153 437,153 C458.0,153.3 474.2,153.2 500.0,153.8 C525.8,154.5 561.3,155.7 592.0,156.9 C622.7,158.1 653.3,158.9 684.0,160.9 C714.7,162.9 750.5,166.4 776.0,169.1 C801.5,171.8 816.5,172.5 837.0,176.8 C857.5,181.1 880.2,186.8 899.0,195.0 C917.8,203.2 938.2,217.2 950.0,226.0 C961.8,234.8 964.0,240.0 970.0,248.0 C976.0,256.0 981.7,265.3 986.0,274.0 C990.3,282.7 992.7,289.7 996.0,300.0 C999.3,310.3 1003.0,324.3 1006.0,336.0 C1009.0,347.7 1011.7,359.3 1014.0,370.0 C1016.3,380.7 1018.2,388.3 1020.0,400.0 C1021.8,411.7 1023.3,426.7 1025.0,440.0 C1026.7,453.3 1028.2,465.0 1030.0,480.0 C1031.8,495.0 1033.3,505.7 1036.0,530.0 C1038.7,554.3 1043.3,591.0 1046.0,626.0 C1048.7,661.0 1050.3,702.2 1052.0,740.0 C1053.7,777.8 1055.2,815.3 1056.0,853.0 C1056.8,890.7 1057.0,934.8 1057.0,966.0 C1057.0,997.2 1056.5,1021.2 1056.0,1040.0 C1055.5,1058.8 1054.8,1065.7 1054.0,1079.0 C1053.2,1092.3 1052.5,1106.5 1051.5,1120.0 C1050.5,1133.5 1049.4,1148.5 1048.0,1160.0 C1046.6,1171.5 1045.8,1179.8 1043.0,1189.0 C1040.2,1198.2 1036.8,1206.2 1031.0,1215.0 C1025.2,1223.8 1016.0,1234.5 1008.0,1241.7 C1000.0,1248.9 992.7,1252.2 983.0,1258.0 C973.3,1263.8 963.8,1270.5 950.0,1276.7 C936.2,1282.9 916.7,1289.9 900.0,1295.0 C883.3,1300.1 871.7,1304.1 850.0,1307.5 C828.3,1310.9 803.3,1313.8 770.0,1315.5 C736.7,1317.2 685.0,1318.4 650.0,1318.0 C615.0,1317.6 585.0,1314.7 560.0,1313.0 C535.0,1311.3 519.8,1309.8 500.0,1308.0 C480.2,1306.2 460.7,1304.0 441.0,1302.0 Q431.5,1300 431.5,1292 L428,1000 L427.5,630 L430.5,160 Z" transform="translate(0,4)" fill="rgb(40,40,40)"/>
<path d="M430.5,160 Q430.5,153 437,153 C458.0,153.3 474.2,153.2 500.0,153.8 C525.8,154.5 561.3,155.7 592.0,156.9 C622.7,158.1 653.3,158.9 684.0,160.9 C714.7,162.9 750.5,166.4 776.0,169.1 C801.5,171.8 816.5,172.5 837.0,176.8 C857.5,181.1 880.2,186.8 899.0,195.0 C917.8,203.2 938.2,217.2 950.0,226.0 C961.8,234.8 964.0,240.0 970.0,248.0 C976.0,256.0 981.7,265.3 986.0,274.0 C990.3,282.7 992.7,289.7 996.0,300.0 C999.3,310.3 1003.0,324.3 1006.0,336.0 C1009.0,347.7 1011.7,359.3 1014.0,370.0 C1016.3,380.7 1018.2,388.3 1020.0,400.0 C1021.8,411.7 1023.3,426.7 1025.0,440.0 C1026.7,453.3 1028.2,465.0 1030.0,480.0 C1031.8,495.0 1033.3,505.7 1036.0,530.0 C1038.7,554.3 1043.3,591.0 1046.0,626.0 C1048.7,661.0 1050.3,702.2 1052.0,740.0 C1053.7,777.8 1055.2,815.3 1056.0,853.0 C1056.8,890.7 1057.0,934.8 1057.0,966.0 C1057.0,997.2 1056.5,1021.2 1056.0,1040.0 C1055.5,1058.8 1054.8,1065.7 1054.0,1079.0 C1053.2,1092.3 1052.5,1106.5 1051.5,1120.0 C1050.5,1133.5 1049.4,1148.5 1048.0,1160.0 C1046.6,1171.5 1045.8,1179.8 1043.0,1189.0 C1040.2,1198.2 1036.8,1206.2 1031.0,1215.0 C1025.2,1223.8 1016.0,1234.5 1008.0,1241.7 C1000.0,1248.9 992.7,1252.2 983.0,1258.0 C973.3,1263.8 963.8,1270.5 950.0,1276.7 C936.2,1282.9 916.7,1289.9 900.0,1295.0 C883.3,1300.1 871.7,1304.1 850.0,1307.5 C828.3,1310.9 803.3,1313.8 770.0,1315.5 C736.7,1317.2 685.0,1318.4 650.0,1318.0 C615.0,1317.6 585.0,1314.7 560.0,1313.0 C535.0,1311.3 519.8,1309.8 500.0,1308.0 C480.2,1306.2 460.7,1304.0 441.0,1302.0 Q431.5,1300 431.5,1292 L428,1000 L427.5,630 L430.5,160 Z" transform="translate(0,2)" fill="rgb(34,34,34)"/>
<path d="M430.5,160 Q430.5,153 437,153 C458.0,153.3 474.2,153.2 500.0,153.8 C525.8,154.5 561.3,155.7 592.0,156.9 C622.7,158.1 653.3,158.9 684.0,160.9 C714.7,162.9 750.5,166.4 776.0,169.1 C801.5,171.8 816.5,172.5 837.0,176.8 C857.5,181.1 880.2,186.8 899.0,195.0 C917.8,203.2 938.2,217.2 950.0,226.0 C961.8,234.8 964.0,240.0 970.0,248.0 C976.0,256.0 981.7,265.3 986.0,274.0 C990.3,282.7 992.7,289.7 996.0,300.0 C999.3,310.3 1003.0,324.3 1006.0,336.0 C1009.0,347.7 1011.7,359.3 1014.0,370.0 C1016.3,380.7 1018.2,388.3 1020.0,400.0 C1021.8,411.7 1023.3,426.7 1025.0,440.0 C1026.7,453.3 1028.2,465.0 1030.0,480.0 C1031.8,495.0 1033.3,505.7 1036.0,530.0 C1038.7,554.3 1043.3,591.0 1046.0,626.0 C1048.7,661.0 1050.3,702.2 1052.0,740.0 C1053.7,777.8 1055.2,815.3 1056.0,853.0 C1056.8,890.7 1057.0,934.8 1057.0,966.0 C1057.0,997.2 1056.5,1021.2 1056.0,1040.0 C1055.5,1058.8 1054.8,1065.7 1054.0,1079.0 C1053.2,1092.3 1052.5,1106.5 1051.5,1120.0 C1050.5,1133.5 1049.4,1148.5 1048.0,1160.0 C1046.6,1171.5 1045.8,1179.8 1043.0,1189.0 C1040.2,1198.2 1036.8,1206.2 1031.0,1215.0 C1025.2,1223.8 1016.0,1234.5 1008.0,1241.7 C1000.0,1248.9 992.7,1252.2 983.0,1258.0 C973.3,1263.8 963.8,1270.5 950.0,1276.7 C936.2,1282.9 916.7,1289.9 900.0,1295.0 C883.3,1300.1 871.7,1304.1 850.0,1307.5 C828.3,1310.9 803.3,1313.8 770.0,1315.5 C736.7,1317.2 685.0,1318.4 650.0,1318.0 C615.0,1317.6 585.0,1314.7 560.0,1313.0 C535.0,1311.3 519.8,1309.8 500.0,1308.0 C480.2,1306.2 460.7,1304.0 441.0,1302.0 Q431.5,1300 431.5,1292 L428,1000 L427.5,630 L430.5,160 Z" transform="translate(0,0)" fill="rgb(22,22,22)"/>
</g></g>
<path d="M496,1400 Q498,1368 525,1367 L820,1376 C870,1372 913,1362 960,1348 C990,1338 1010,1330 1040,1322" fill="none" stroke="#f0f0f0" stroke-width="2.5" opacity="0.9" filter="url(#rblur)"/>
<path d="M505,1420 L505,1400 Q506,1392 520,1392 L850,1400 C930,1392 990,1375 1045,1350" fill="none" stroke="#e6e6e6" stroke-width="2" opacity="0.6" filter="url(#rblur)"/>
<path d="M705,1440 Q703,1418 730,1414 L775,1418 Q780,1440 760,1452 Q735,1462 712,1452 Z" fill="#fbfbfb" opacity="0.9" filter="url(#rblur2)"/>
<path d="M430.5,160 Q430.5,153 437,153 C458.0,153.3 474.2,153.2 500.0,153.8 C525.8,154.5 561.3,155.7 592.0,156.9 C622.7,158.1 653.3,158.9 684.0,160.9 C714.7,162.9 750.5,166.4 776.0,169.1 C801.5,171.8 816.5,172.5 837.0,176.8 C857.5,181.1 880.2,186.8 899.0,195.0 C917.8,203.2 938.2,217.2 950.0,226.0 C961.8,234.8 964.0,240.0 970.0,248.0 C976.0,256.0 981.7,265.3 986.0,274.0 C990.3,282.7 992.7,289.7 996.0,300.0 C999.3,310.3 1003.0,324.3 1006.0,336.0 C1009.0,347.7 1011.7,359.3 1014.0,370.0 C1016.3,380.7 1018.2,388.3 1020.0,400.0 C1021.8,411.7 1023.3,426.7 1025.0,440.0 C1026.7,453.3 1028.2,465.0 1030.0,480.0 C1031.8,495.0 1033.3,505.7 1036.0,530.0 C1038.7,554.3 1043.3,591.0 1046.0,626.0 C1048.7,661.0 1050.3,702.2 1052.0,740.0 C1053.7,777.8 1055.2,815.3 1056.0,853.0 C1056.8,890.7 1057.0,934.8 1057.0,966.0 C1057.0,997.2 1056.5,1021.2 1056.0,1040.0 C1055.5,1058.8 1054.8,1065.7 1054.0,1079.0 C1053.2,1092.3 1052.5,1106.5 1051.5,1120.0 C1050.5,1133.5 1049.4,1148.5 1048.0,1160.0 C1046.6,1171.5 1045.8,1179.8 1043.0,1189.0 C1040.2,1198.2 1036.8,1206.2 1031.0,1215.0 C1025.2,1223.8 1016.0,1234.5 1008.0,1241.7 C1000.0,1248.9 992.7,1252.2 983.0,1258.0 C973.3,1263.8 963.8,1270.5 950.0,1276.7 C936.2,1282.9 916.7,1289.9 900.0,1295.0 C883.3,1300.1 871.7,1304.1 850.0,1307.5 C828.3,1310.9 803.3,1313.8 770.0,1315.5 C736.7,1317.2 685.0,1318.4 650.0,1318.0 C615.0,1317.6 585.0,1314.7 560.0,1313.0 C535.0,1311.3 519.8,1309.8 500.0,1308.0 C480.2,1306.2 460.7,1304.0 441.0,1302.0 Q431.5,1300 431.5,1292 L428,1000 L427.5,630 L430.5,160 Z" fill="#000"/>
<g clip-path="url(#bodyclip)">
<rect x="600" y="150" width="450" height="1170" fill="url(#bandTop)" mask="url(#bandMask)"/>
<path d="M494,1000 L490,245 Q490,211 524,211 L700,213 C800,218 880,232 930,262 C965,285 985,320 995,370 C1005,430 1012,520 1016,650 C1019,800 1020,950 1018,1080 C1016,1160 1008,1200 985,1222 C955,1245 900,1252 800,1258 L540,1258 Q494,1258 494,1215 Z" fill="none" stroke="#202020" stroke-width="1.8"/>
<path d="M500,1000 L498,250 Q498,219 529,219 L700,221 C800,226 875,240 922,268 C955,290 975,325 985,372 C995,432 1002,520 1006,650 C1009,800 1010,950 1008,1075 C1006,1150 998,1190 978,1210 C950,1232 900,1240 800,1248 L545,1250 Q501,1250 501,1212 Z" fill="none" stroke="#1c1c1c" stroke-width="1.6"/>
<path d="M512,300 L513,700 L518,1000 L523,1215" fill="none" stroke="#181818" stroke-width="1.6"/>
<path d="M860,242 C920,262 965,290 985,330" fill="none" stroke="#141414" stroke-width="1.5"/>
<path d="M791,349 Q791,335 806,335 L960,338 Q992,345 996,390 L1004,940 L804,940 Z" fill="url(#comp)"/>
<path d="M792,439 C860,436 940,433 1002,426 L1002,434 C940,441 860,444 792,447 Z" fill="#050505" opacity="0.45" filter="url(#soft)"/>
<path d="M796,437 C860,434 940,431 1000,424" fill="none" stroke="#303030" stroke-width="1.5" opacity="0.4"/>
<path d="M792,574 C860,571 940,567 1002,560 L1002,568 C940,575 860,579 792,582 Z" fill="#050505" opacity="0.45" filter="url(#soft)"/>
<path d="M796,572 C860,569 940,565 1000,558" fill="none" stroke="#303030" stroke-width="1.5" opacity="0.4"/>
<path d="M792,710 C860,707 940,703 1002,696 L1002,704 C940,711 860,715 792,718 Z" fill="#050505" opacity="0.45" filter="url(#soft)"/>
<path d="M796,708 C860,705 940,701 1000,694" fill="none" stroke="#303030" stroke-width="1.5" opacity="0.4"/>
<path d="M792,837 C860,834 940,831 1002,824 L1002,832 C940,839 860,842 792,845 Z" fill="#050505" opacity="0.45" filter="url(#soft)"/>
<path d="M796,835 C860,832 940,829 1000,822" fill="none" stroke="#303030" stroke-width="1.5" opacity="0.4"/>
<path d="M955,338 C985,350 992,380 996,420 L1004,940" fill="none" stroke="#080808" stroke-width="3"/>
<path d="M524,304 L745,306 Q786,308 786,352 L804,912 Q804,960 760,960 L526,960 Z" fill="#090909"/>
<path d="M531,311 L740,314 Q779,316 779,356 L797,915 Q797,954 757,954 L534,954 L534,903 L737,903 L714,369 Q714,362 706,362 L531,362 Z" fill="url(#barH)"/>
<path d="M534,907 L740,907 L750,954 L534,954 Z" fill="#fff" opacity="0.025"/>
<path d="M534,903 L737,903 L740,907 L534,907 Z" fill="#222" opacity="0.6"/>
<path d="M531,369 L714,369 L737,903 L534,903 Z" fill="#030303"/>
<path d="M531,369 L714,369 L737,903 L534,903 Z" fill="none" stroke="#111" stroke-width="3"/>
<g clip-path="url(#ledclip)">
<rect x="534" y="446" width="183.8" height="22" fill="#0c0c0c"/>
<rect x="539" y="446" width="169.8" height="6" fill="url(#divG)"/>
<rect x="534" y="535" width="187.6" height="22" fill="#0c0c0c"/>
<rect x="539" y="535" width="173.6" height="6" fill="url(#divG)"/>
<rect x="534" y="626" width="191.5" height="22" fill="#0c0c0c"/>
<rect x="539" y="626" width="177.5" height="6" fill="url(#divG)"/>
<rect x="534" y="717" width="195.5" height="22" fill="#0c0c0c"/>
<rect x="539" y="717" width="181.5" height="6" fill="url(#divG)"/>
<rect x="534" y="804" width="199.2" height="22" fill="#0c0c0c"/>
<rect x="539" y="804" width="185.2" height="6" fill="url(#divG)"/>
<circle cx="580.0" cy="409" r="27" fill="#060606"/>
<path d="M559.0,421 Q580.0,437 601.0,421" fill="none" stroke="#0f0f0f" stroke-width="3"/>
<rect x="575.0" y="399" width="10" height="12" fill="#606060"/>
<rect x="577.0" y="401.5" width="6" height="7" fill="#4a4244"/>
<circle cx="640.0" cy="409" r="27" fill="#060606"/>
<path d="M619.0,421 Q640.0,437 661.0,421" fill="none" stroke="#0f0f0f" stroke-width="3"/>
<rect x="635.0" y="399" width="10" height="12" fill="#606060"/>
<rect x="637.0" y="401.5" width="6" height="7" fill="#4a4244"/>
<circle cx="702.0" cy="409" r="27" fill="#060606"/>
<path d="M681.0,421 Q702.0,437 723.0,421" fill="none" stroke="#0f0f0f" stroke-width="3"/>
<rect x="697.0" y="399" width="10" height="12" fill="#606060"/>
<rect x="699.0" y="401.5" width="6" height="7" fill="#4a4244"/>
<rect x="608.0" y="391" width="2" height="26" fill="#222"/>
<rect x="668.0" y="391" width="2" height="26" fill="#222"/>
<path d="M545.0,413 l8,-8 l4,6 l-8,8 Z" fill="#1e1e1e"/>
<circle cx="581.5" cy="502" r="27" fill="#060606"/>
<path d="M560.5,514 Q581.5,530 602.5,514" fill="none" stroke="#0f0f0f" stroke-width="3"/>
<rect x="576.5" y="492" width="10" height="12" fill="#606060"/>
<rect x="578.5" y="494.5" width="6" height="7" fill="#4a4244"/>
<circle cx="641.5" cy="502" r="27" fill="#060606"/>
<path d="M620.5,514 Q641.5,530 662.5,514" fill="none" stroke="#0f0f0f" stroke-width="3"/>
<rect x="636.5" y="492" width="10" height="12" fill="#606060"/>
<rect x="638.5" y="494.5" width="6" height="7" fill="#4a4244"/>
<circle cx="703.5" cy="502" r="27" fill="#060606"/>
<path d="M682.5,514 Q703.5,530 724.5,514" fill="none" stroke="#0f0f0f" stroke-width="3"/>
<rect x="698.5" y="492" width="10" height="12" fill="#606060"/>
<rect x="700.5" y="494.5" width="6" height="7" fill="#4a4244"/>
<rect x="609.5" y="484" width="2" height="26" fill="#222"/>
<rect x="669.5" y="484" width="2" height="26" fill="#222"/>
<path d="M546.5,506 l8,-8 l4,6 l-8,8 Z" fill="#1e1e1e"/>
<circle cx="582.9" cy="591" r="27" fill="#060606"/>
<path d="M561.9,603 Q582.9,619 603.9,603" fill="none" stroke="#0f0f0f" stroke-width="3"/>
<rect x="577.9" y="581" width="10" height="12" fill="#606060"/>
<rect x="579.9" y="583.5" width="6" height="7" fill="#4a4244"/>
<circle cx="642.9" cy="591" r="27" fill="#060606"/>
<path d="M621.9,603 Q642.9,619 663.9,603" fill="none" stroke="#0f0f0f" stroke-width="3"/>
<rect x="637.9" y="581" width="10" height="12" fill="#606060"/>
<rect x="639.9" y="583.5" width="6" height="7" fill="#4a4244"/>
<circle cx="704.9" cy="591" r="27" fill="#060606"/>
<path d="M683.9,603 Q704.9,619 725.9,603" fill="none" stroke="#0f0f0f" stroke-width="3"/>
<rect x="699.9" y="581" width="10" height="12" fill="#606060"/>
<rect x="701.9" y="583.5" width="6" height="7" fill="#4a4244"/>
<rect x="610.9" y="573" width="2" height="26" fill="#222"/>
<rect x="670.9" y="573" width="2" height="26" fill="#222"/>
<path d="M547.9,595 l8,-8 l4,6 l-8,8 Z" fill="#1e1e1e"/>
<circle cx="584.4" cy="684" r="27" fill="#060606"/>
<path d="M563.4,696 Q584.4,712 605.4,696" fill="none" stroke="#0f0f0f" stroke-width="3"/>
<rect x="579.4" y="674" width="10" height="12" fill="#606060"/>
<rect x="581.4" y="676.5" width="6" height="7" fill="#4a4244"/>
<circle cx="644.4" cy="684" r="27" fill="#060606"/>
<path d="M623.4,696 Q644.4,712 665.4,696" fill="none" stroke="#0f0f0f" stroke-width="3"/>
<rect x="639.4" y="674" width="10" height="12" fill="#606060"/>
<rect x="641.4" y="676.5" width="6" height="7" fill="#4a4244"/>
<circle cx="706.4" cy="684" r="27" fill="#060606"/>
<path d="M685.4,696 Q706.4,712 727.4,696" fill="none" stroke="#0f0f0f" stroke-width="3"/>
<rect x="701.4" y="674" width="10" height="12" fill="#606060"/>
<rect x="703.4" y="676.5" width="6" height="7" fill="#4a4244"/>
<rect x="612.4" y="666" width="2" height="26" fill="#222"/>
<rect x="672.4" y="666" width="2" height="26" fill="#222"/>
<path d="M549.4,688 l8,-8 l4,6 l-8,8 Z" fill="#1e1e1e"/>
<circle cx="585.8" cy="771" r="27" fill="#060606"/>
<path d="M564.8,783 Q585.8,799 606.8,783" fill="none" stroke="#0f0f0f" stroke-width="3"/>
<rect x="580.8" y="761" width="10" height="12" fill="#606060"/>
<rect x="582.8" y="763.5" width="6" height="7" fill="#4a4244"/>
<circle cx="645.8" cy="771" r="27" fill="#060606"/>
<path d="M624.8,783 Q645.8,799 666.8,783" fill="none" stroke="#0f0f0f" stroke-width="3"/>
<rect x="640.8" y="761" width="10" height="12" fill="#606060"/>
<rect x="642.8" y="763.5" width="6" height="7" fill="#4a4244"/>
<circle cx="707.8" cy="771" r="27" fill="#060606"/>
<path d="M686.8,783 Q707.8,799 728.8,783" fill="none" stroke="#0f0f0f" stroke-width="3"/>
<rect x="702.8" y="761" width="10" height="12" fill="#606060"/>
<rect x="704.8" y="763.5" width="6" height="7" fill="#4a4244"/>
<rect x="613.8" y="753" width="2" height="26" fill="#222"/>
<rect x="673.8" y="753" width="2" height="26" fill="#222"/>
<path d="M550.8,775 l8,-8 l4,6 l-8,8 Z" fill="#1e1e1e"/>
<circle cx="587.2" cy="860" r="27" fill="#060606"/>
<path d="M566.2,872 Q587.2,888 608.2,872" fill="none" stroke="#0f0f0f" stroke-width="3"/>
<rect x="582.2" y="850" width="10" height="12" fill="#606060"/>
<rect x="584.2" y="852.5" width="6" height="7" fill="#4a4244"/>
<circle cx="647.2" cy="860" r="27" fill="#060606"/>
<path d="M626.2,872 Q647.2,888 668.2,872" fill="none" stroke="#0f0f0f" stroke-width="3"/>
<rect x="642.2" y="850" width="10" height="12" fill="#606060"/>
<rect x="644.2" y="852.5" width="6" height="7" fill="#4a4244"/>
<circle cx="709.2" cy="860" r="27" fill="#060606"/>
<path d="M688.2,872 Q709.2,888 730.2,872" fill="none" stroke="#0f0f0f" stroke-width="3"/>
<rect x="704.2" y="850" width="10" height="12" fill="#606060"/>
<rect x="706.2" y="852.5" width="6" height="7" fill="#4a4244"/>
<rect x="615.2" y="842" width="2" height="26" fill="#222"/>
<rect x="675.2" y="842" width="2" height="26" fill="#222"/>
<path d="M552.2,864 l8,-8 l4,6 l-8,8 Z" fill="#1e1e1e"/>
</g>
<path d="M714,369 L737,903" fill="none" stroke="#262626" stroke-width="2"/>
<path d="M505,961 L800,961 C880,958 960,940 1040,898 L1045,980 C990,1010 900,1040 790,1048 L505,1050 Z" fill="url(#lowerH)"/>
<path d="M790,1048 C900,1040 990,1010 1045,980 L1042,1150 C1035,1200 1010,1222 960,1234 L850,1240 L830,1100 Z" fill="url(#lowerR)"/>
<path d="M790,1046 C900,1038 990,1008 1045,978" fill="none" stroke="#2a2a2a" stroke-width="2" opacity="0.6"/>
<path d="M800,1036 C900,1028 980,1000 1035,970" fill="none" stroke="#1e1e1e" stroke-width="1.5" opacity="0.6"/>
<path d="M800,950 C900,944 970,925 1020,900" fill="none" stroke="#1e1e1e" stroke-width="2" opacity="0.6"/>
<rect x="558" y="980" width="203" height="39" fill="#0a0203"/>
<rect x="564" y="984" width="193" height="3" fill="#3a070b"/>
<rect x="566" y="989" width="190" height="26" fill="url(#dots)" filter="url(#soft)"/>
<path d="M553,1049 L553,1018 L746,1018 L746,1049" fill="#070707" stroke="#2a2a2a" stroke-width="1.2"/>
<path d="M787,982 L886,972 L886,986 L787,993 Z" fill="#262626" filter="url(#soft)"/>
<path d="M787,1006 L886,994 L886,1009 L787,1018 Z" fill="#252525" filter="url(#soft)"/>
<path d="M825,1026 C860,1022 900,1018 940,1012" fill="none" stroke="#3a3a3a" stroke-width="1.5" opacity="0.7"/>
<path d="M825,1029 C860,1025 900,1021 940,1015" fill="none" stroke="#303030" stroke-width="1.2" opacity="0.6"/>
<path d="M830,962 C860,960 880,958 900,955" fill="none" stroke="#333" stroke-width="1.5" opacity="0.6"/>
<path d="M918,962 L1014,928 L1014,954 L918,995 Z" fill="#1a0204"/>
<path d="M924,966 L1012,934 L1012,952 L924,988 Z" fill="url(#dots2)"/>
<path d="M524,1050 L790,1048 L830,1100 L848,1225 L524,1222 Z" fill="#030303"/>
<path d="M779,1043 C800,1080 830,1140 838,1218" fill="none" stroke="#262626" stroke-width="1.6"/>
<path d="M786,1043 C807,1080 837,1140 845,1218" fill="none" stroke="#1a1a1a" stroke-width="1.6"/>
<path d="M793,1043 C814,1080 844,1140 852,1218" fill="none" stroke="#262626" stroke-width="1.6"/>
<path d="M800,1043 C821,1080 851,1140 859,1218" fill="none" stroke="#1a1a1a" stroke-width="1.6"/>
<path d="M528,1040 L540,1042 L565,1068 L561,1095 L545,1104 L528,1104 Z" fill="#262626" filter="url(#soft)"/>
<path d="M580,1045 Q598,1050 603,1075 L590,1085 L578,1060 Z" fill="#141414" filter="url(#soft)"/>
<rect x="627" y="1119" width="14" height="40" fill="#0f0f0f"/>
<rect x="646" y="1119" width="16" height="40" fill="#0f0f0f"/>
<rect x="668" y="1119" width="20" height="40" fill="#0f0f0f"/>
<rect x="661" y="1140" width="50" height="22" fill="#141414"/>
<circle cx="736" cy="1107" r="51" fill="#0d0d0d"/>
<circle cx="736" cy="1107" r="46" fill="none" stroke="#1c1c1c" stroke-width="3"/>
<circle cx="741" cy="1106" r="39.5" fill="url(#bulbG)"/>
<path d="M700,1070 L716,1082 L712,1090 L698,1080 Z" fill="#0d0d0d"/>
<path d="M702,1128 L716,1120 L728,1146 L714,1152 Z" fill="#101010"/>
<path d="M712,1122 L722,1116 L730,1134 L720,1140 Z" fill="#262626"/>
<path d="M760,1142 L778,1128 L786,1140 L768,1156 Z" fill="#0d0d0d"/>
<path d="M703,1222 L703,1195 Q708,1175 738,1174 Q770,1176 775,1205 L775,1222 Z" fill="url(#blob)"/>
<path d="M524,1222 L848,1225" fill="none" stroke="#181818" stroke-width="2"/>
<path d="M500,1232 L840,1238 C920,1232 980,1215 1005,1185" fill="none" stroke="#121212" stroke-width="2"/>
</g>
<text transform="translate(154.88,288.30) scale(0.8552,1)" x="0" y="0">RUNNING</text>
<text transform="translate(154.94,326.30) scale(0.8384,1)" x="0" y="0">LIGHT</text>
<text transform="translate(154.81,545.50) scale(0.8147,1)" x="0" y="0">BRAKE/</text>
<text transform="translate(154.62,583.00) scale(0.8268,1)" x="0" y="0">TURN SIGNAL</text>
<text transform="translate(151.56,1098.70) scale(0.7396,1)" x="0" y="0">REVERSE</text>
<text transform="translate(1233.17,709.20) scale(0.8289,1)" x="0" y="0">BLACK</text>
<text transform="translate(1182.21,747.20) scale(0.8466,1)" x="0" y="0">HOUSING</text>
<text transform="translate(1219.78,910.50) scale(0.7874,1)" x="0" y="0">SAFETY</text>
<text transform="translate(1153.25,948.50) scale(0.7751,1)" x="0" y="0">REFLECTOR</text>
<text transform="translate(1128.74,1177.30) scale(0.8039,1)" x="0" y="0">SMOKE LENS</text>
<rect x="155.0" y="338.0" width="12.0" height="4" fill="#e6141c"/><rect x="175.0" y="338.0" width="16.0" height="4" fill="#e6141c"/><rect x="199.0" y="338.0" width="16.0" height="4" fill="#e6141c"/><rect x="223.0" y="338.0" width="16.0" height="4" fill="#e6141c"/><rect x="247.0" y="338.0" width="16.0" height="4" fill="#e6141c"/><rect x="271.0" y="338.0" width="16.0" height="4" fill="#e6141c"/><rect x="295.0" y="338.0" width="16.0" height="4" fill="#e6141c"/><rect x="319.0" y="338.0" width="16.0" height="4" fill="#e6141c"/><rect x="343.0" y="338.0" width="16.0" height="4" fill="#e6141c"/><rect x="367.0" y="338.0" width="16.0" height="4" fill="#e6141c"/><rect x="391.0" y="338.0" width="16.0" height="4" fill="#e6141c"/><rect x="415.0" y="338.0" width="16.0" height="4" fill="#e6141c"/><rect x="439.0" y="338.0" width="16.0" height="4" fill="#e6141c"/><rect x="463.0" y="338.0" width="16.0" height="4" fill="#e6141c"/><rect x="487.0" y="338.0" width="16.0" height="4" fill="#e6141c"/><rect x="511.0" y="338.0" width="16.0" height="4" fill="#e6141c"/><rect x="535.0" y="338.0" width="16.0" height="4" fill="#e6141c"/><rect x="559.0" y="338.0" width="16.0" height="4" fill="#e6141c"/><circle cx="578.5" cy="340" r="11.4" fill="#fff" stroke="#e6141c" stroke-width="4.3"/><rect x="155.0" y="595.0" width="12.0" height="4" fill="#e6141c"/><rect x="175.0" y="595.0" width="16.0" height="4" fill="#e6141c"/><rect x="199.0" y="595.0" width="16.0" height="4" fill="#e6141c"/><rect x="223.0" y="595.0" width="16.0" height="4" fill="#e6141c"/><rect x="247.0" y="595.0" width="16.0" height="4" fill="#e6141c"/><rect x="271.0" y="595.0" width="16.0" height="4" fill="#e6141c"/><rect x="295.0" y="595.0" width="16.0" height="4" fill="#e6141c"/><rect x="319.0" y="595.0" width="16.0" height="4" fill="#e6141c"/><rect x="343.0" y="595.0" width="16.0" height="4" fill="#e6141c"/><rect x="367.0" y="595.0" width="16.0" height="4" fill="#e6141c"/><rect x="391.0" y="595.0" width="16.0" height="4" fill="#e6141c"/><rect x="415.0" y="595.0" width="16.0" height="4" fill="#e6141c"/><rect x="439.0" y="595.0" width="16.0" height="4" fill="#e6141c"/><rect x="463.0" y="595.0" width="16.0" height="4" fill="#e6141c"/><rect x="487.0" y="595.0" width="16.0" height="4" fill="#e6141c"/><rect x="511.0" y="595.0" width="16.0" height="4" fill="#e6141c"/><rect x="535.0" y="595.0" width="16.0" height="4" fill="#e6141c"/><rect x="559.0" y="595.0" width="16.0" height="4" fill="#e6141c"/><circle cx="578" cy="597" r="11.4" fill="#fff" stroke="#e6141c" stroke-width="4.3"/><rect x="155.0" y="1107.0" width="1.0" height="4" fill="#e6141c"/><rect x="164.0" y="1107.0" width="16.0" height="4" fill="#e6141c"/><rect x="188.0" y="1107.0" width="16.0" height="4" fill="#e6141c"/><rect x="212.0" y="1107.0" width="16.0" height="4" fill="#e6141c"/><rect x="236.0" y="1107.0" width="16.0" height="4" fill="#e6141c"/><rect x="260.0" y="1107.0" width="16.0" height="4" fill="#e6141c"/><rect x="284.0" y="1107.0" width="16.0" height="4" fill="#e6141c"/><rect x="308.0" y="1107.0" width="16.0" height="4" fill="#e6141c"/><rect x="332.0" y="1107.0" width="16.0" height="4" fill="#e6141c"/><rect x="356.0" y="1107.0" width="16.0" height="4" fill="#e6141c"/><rect x="380.0" y="1107.0" width="16.0" height="4" fill="#e6141c"/><rect x="404.0" y="1107.0" width="16.0" height="4" fill="#e6141c"/><rect x="428.0" y="1107.0" width="16.0" height="4" fill="#e6141c"/><rect x="452.0" y="1107.0" width="16.0" height="4" fill="#e6141c"/><rect x="476.0" y="1107.0" width="16.0" height="4" fill="#e6141c"/><rect x="500.0" y="1107.0" width="16.0" height="4" fill="#e6141c"/><rect x="524.0" y="1107.0" width="16.0" height="4" fill="#e6141c"/><rect x="548.0" y="1107.0" width="16.0" height="4" fill="#e6141c"/><rect x="572.0" y="1107.0" width="16.0" height="4" fill="#e6141c"/><rect x="596.0" y="1107.0" width="16.0" height="4" fill="#e6141c"/><rect x="620.0" y="1107.0" width="16.0" height="4" fill="#e6141c"/><rect x="644.0" y="1107.0" width="16.0" height="4" fill="#e6141c"/><rect x="668.0" y="1107.0" width="16.0" height="4" fill="#e6141c"/><rect x="692.0" y="1107.0" width="16.0" height="4" fill="#e6141c"/><rect x="716.0" y="1107.0" width="16.0" height="4" fill="#e6141c"/><circle cx="745" cy="1109" r="11.4" fill="#fff" stroke="#e6141c" stroke-width="4.3"/><rect x="967.0" y="759.0" width="16.0" height="4" fill="#e6141c"/><rect x="991.0" y="759.0" width="16.0" height="4" fill="#e6141c"/><rect x="1015.0" y="759.0" width="16.0" height="4" fill="#e6141c"/><rect x="1039.0" y="759.0" width="16.0" height="4" fill="#e6141c"/><rect x="1063.0" y="759.0" width="16.0" height="4" fill="#e6141c"/><rect x="1087.0" y="759.0" width="16.0" height="4" fill="#e6141c"/><rect x="1111.0" y="759.0" width="16.0" height="4" fill="#e6141c"/><rect x="1135.0" y="759.0" width="16.0" height="4" fill="#e6141c"/><rect x="1159.0" y="759.0" width="16.0" height="4" fill="#e6141c"/><rect x="1183.0" y="759.0" width="16.0" height="4" fill="#e6141c"/><rect x="1207.0" y="759.0" width="16.0" height="4" fill="#e6141c"/><rect x="1231.0" y="759.0" width="16.0" height="4" fill="#e6141c"/><rect x="1255.0" y="759.0" width="16.0" height="4" fill="#e6141c"/><rect x="1279.0" y="759.0" width="16.0" height="4" fill="#e6141c"/><rect x="1303.0" y="759.0" width="16.0" height="4" fill="#e6141c"/><rect x="1327.0" y="759.0" width="16.0" height="4" fill="#e6141c"/><circle cx="946" cy="761" r="11.4" fill="#fff" stroke="#e6141c" stroke-width="4.3"/><rect x="1017.0" y="959.0" width="16.0" height="4" fill="#e6141c"/><rect x="1041.0" y="959.0" width="16.0" height="4" fill="#e6141c"/><rect x="1065.0" y="959.0" width="16.0" height="4" fill="#e6141c"/><rect x="1089.0" y="959.0" width="16.0" height="4" fill="#e6141c"/><rect x="1113.0" y="959.0" width="16.0" height="4" fill="#e6141c"/><rect x="1137.0" y="959.0" width="16.0" height="4" fill="#e6141c"/><rect x="1161.0" y="959.0" width="16.0" height="4" fill="#e6141c"/><rect x="1185.0" y="959.0" width="16.0" height="4" fill="#e6141c"/><rect x="1209.0" y="959.0" width="16.0" height="4" fill="#e6141c"/><rect x="1233.0" y="959.0" width="16.0" height="4" fill="#e6141c"/><rect x="1257.0" y="959.0" width="16.0" height="4" fill="#e6141c"/><rect x="1281.0" y="959.0" width="16.0" height="4" fill="#e6141c"/><rect x="1305.0" y="959.0" width="16.0" height="4" fill="#e6141c"/><rect x="1329.0" y="959.0" width="16.0" height="4" fill="#e6141c"/><circle cx="999" cy="961" r="11.4" fill="#fff" stroke="#e6141c" stroke-width="4.3"/><rect x="1015.0" y="1187.0" width="16.0" height="4" fill="#e6141c"/><rect x="1039.0" y="1187.0" width="16.0" height="4" fill="#e6141c"/><rect x="1063.0" y="1187.0" width="16.0" height="4" fill="#e6141c"/><rect x="1087.0" y="1187.0" width="16.0" height="4" fill="#e6141c"/><rect x="1111.0" y="1187.0" width="16.0" height="4" fill="#e6141c"/><rect x="1135.0" y="1187.0" width="16.0" height="4" fill="#e6141c"/><rect x="1159.0" y="1187.0" width="16.0" height="4" fill="#e6141c"/><rect x="1183.0" y="1187.0" width="16.0" height="4" fill="#e6141c"/><rect x="1207.0" y="1187.0" width="16.0" height="4" fill="#e6141c"/><rect x="1231.0" y="1187.0" width="16.0" height="4" fill="#e6141c"/><rect x="1255.0" y="1187.0" width="16.0" height="4" fill="#e6141c"/><rect x="1279.0" y="1187.0" width="16.0" height="4" fill="#e6141c"/><rect x="1303.0" y="1187.0" width="16.0" height="4" fill="#e6141c"/><rect x="1327.0" y="1187.0" width="16.0" height="4" fill="#e6141c"/><circle cx="1013" cy="1189" r="11.4" fill="#fff" stroke="#e6141c" stroke-width="4.3"/>
</svg>
</body></html>
